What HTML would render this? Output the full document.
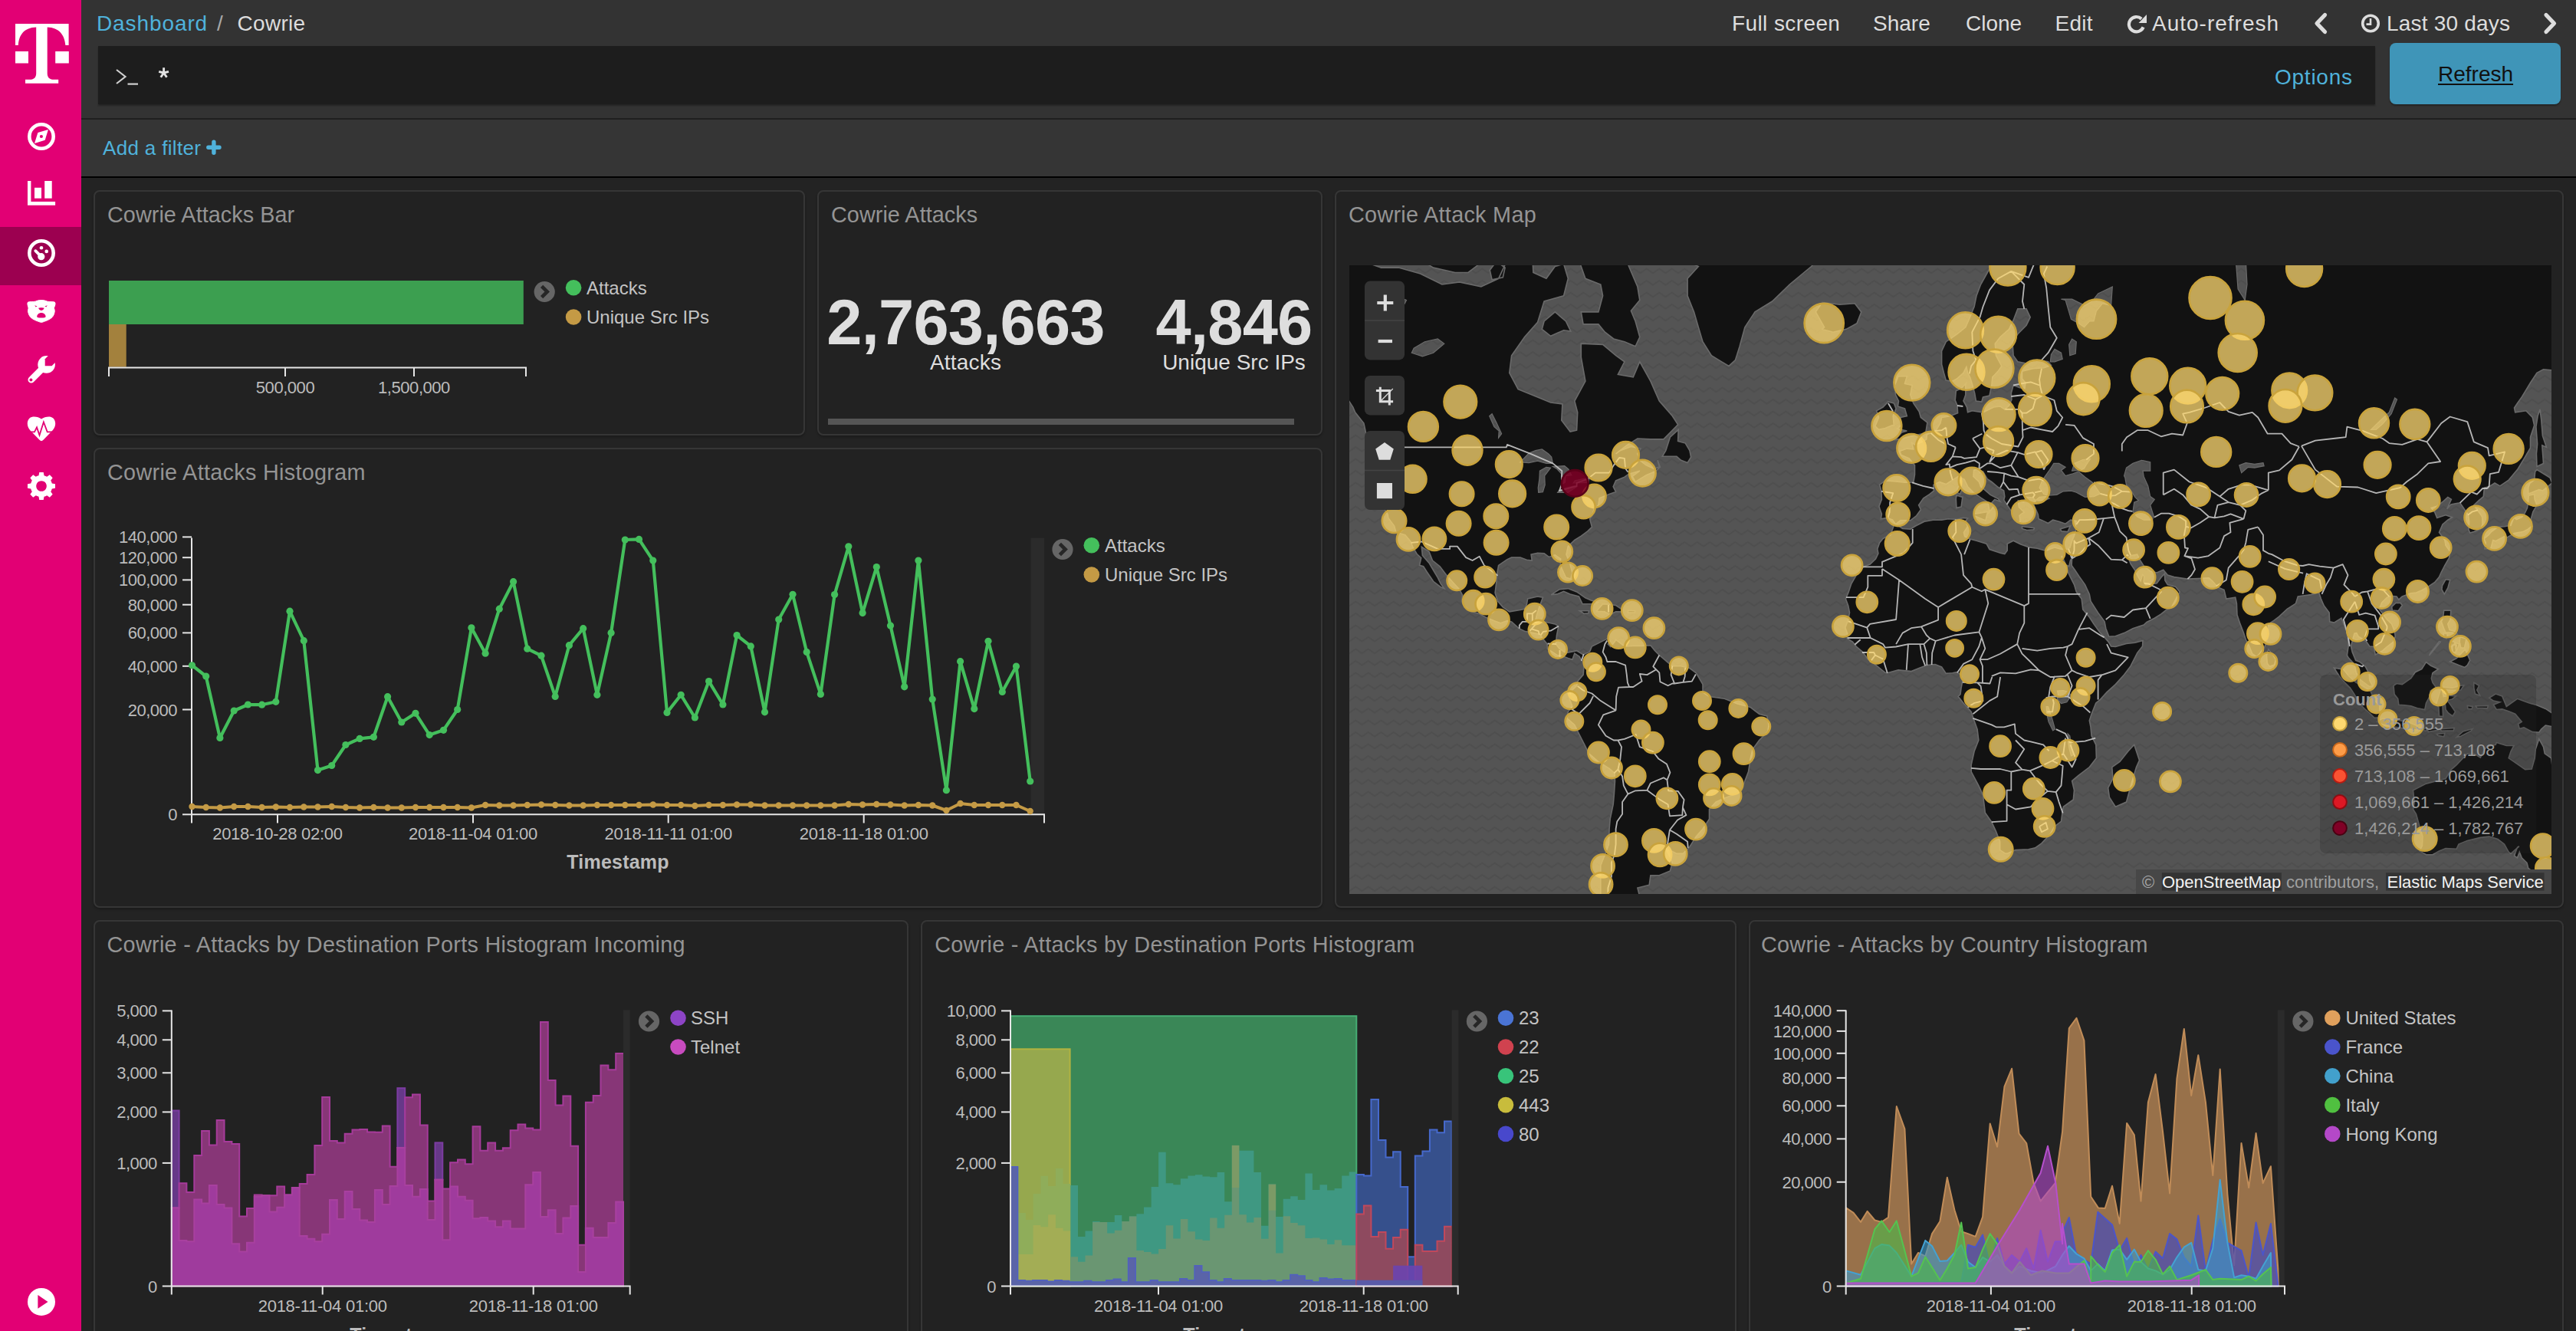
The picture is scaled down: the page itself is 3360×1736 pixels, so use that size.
<!DOCTYPE html>
<html><head><meta charset="utf-8"><style>
*{box-sizing:border-box;margin:0;padding:0}
html,body{width:3360px;height:1736px;overflow:hidden;background:#222;font-family:"Liberation Sans",sans-serif;}
.a{position:absolute}
.t28{font-size:28px;line-height:32px;white-space:nowrap}
.panel{position:absolute;background:#222;border:2px solid #363636;border-radius:8px;box-shadow:0 2px 3px rgba(0,0,0,.25)}
svg{position:absolute;left:0;top:0;overflow:visible}
</style></head>
<body>
<div class="a" style="left:106px;top:0;width:3254px;height:154px;background:#333"></div>
<div class="a" style="left:106px;top:154px;width:3254px;height:2px;background:#1f1f1f"></div>
<div class="a" style="left:106px;top:156px;width:3254px;height:74px;background:#353535"></div>
<div class="a" style="left:106px;top:230px;width:3254px;height:2px;background:#000"></div>
<div class="a" style="left:106px;top:232px;width:3254px;height:1504px;background:#232323"></div>
<div class="a" style="left:0;top:0;width:106px;height:1736px;background:#e20074"></div>
<div class="a" style="left:0;top:296px;width:106px;height:76px;background:#9c0050"></div>
<div class="panel" style="left:122.0px;top:248px;width:928.4px;height:320px"></div>
<div class="panel" style="left:1066.4px;top:248px;width:658.6px;height:320px"></div>
<div class="panel" style="left:1741.0px;top:248px;width:1603.0px;height:936px"></div>
<div class="panel" style="left:122.0px;top:584px;width:1603.0px;height:600px"></div>
<div class="panel" style="left:122.0px;top:1200px;width:1063.3px;height:600px"></div>
<div class="panel" style="left:1201.3px;top:1200px;width:1063.3px;height:600px"></div>
<div class="panel" style="left:2280.7px;top:1200px;width:1063.3px;height:600px"></div>
<div class="a" style="left:126px;top:16.50px;font-size:28px;line-height:1;white-space:nowrap;color:#4fb2db;letter-spacing:0.9px;font-weight:normal;">Dashboard</div>
<div class="a" style="left:283px;top:16.50px;font-size:28px;line-height:1;white-space:nowrap;color:#a8a8a8;letter-spacing:0px;font-weight:normal;">/</div>
<div class="a" style="left:309.5px;top:16.50px;font-size:28px;line-height:1;white-space:nowrap;color:#dcdcdc;letter-spacing:0.3px;font-weight:normal;">Cowrie</div>
<div class="a" style="left:2259px;top:16.50px;font-size:28px;line-height:1;white-space:nowrap;color:#ddd;letter-spacing:0.4px;font-weight:normal;">Full screen</div>
<div class="a" style="left:2443px;top:16.50px;font-size:28px;line-height:1;white-space:nowrap;color:#ddd;letter-spacing:0px;font-weight:normal;">Share</div>
<div class="a" style="left:2564px;top:16.50px;font-size:28px;line-height:1;white-space:nowrap;color:#ddd;letter-spacing:0px;font-weight:normal;">Clone</div>
<div class="a" style="left:2680.5px;top:16.50px;font-size:28px;line-height:1;white-space:nowrap;color:#ddd;letter-spacing:0.3px;font-weight:normal;">Edit</div>
<div class="a" style="left:2807px;top:16.50px;font-size:28px;line-height:1;white-space:nowrap;color:#ddd;letter-spacing:1.0px;font-weight:normal;">Auto-refresh</div>
<div class="a" style="left:3113px;top:16.50px;font-size:28px;line-height:1;white-space:nowrap;color:#ddd;letter-spacing:0.2px;font-weight:normal;">Last 30 days</div>
<div class="a" style="left:128px;top:60px;width:2970px;height:76px;background:#1d1d1d;box-shadow:0 2px 2px rgba(0,0,0,.3)"></div>
<div class="a" style="left:2967px;top:86.80px;font-size:28px;line-height:1;white-space:nowrap;color:#4fb2db;letter-spacing:0.75px;font-weight:normal;">Options</div>
<div class="a" style="left:3117px;top:56px;width:223px;height:80px;background:#3f95b8;border-radius:8px;box-shadow:0 2px 2px rgba(0,0,0,.3)"></div>
<div class="a" style="left:3180px;top:83.30px;font-size:28px;line-height:1;white-space:nowrap;color:#111;letter-spacing:0.0px;font-weight:normal;text-decoration:underline;text-underline-offset:3px">Refresh</div>
<div class="a" style="left:134px;top:179.89px;font-size:26px;line-height:1;white-space:nowrap;color:#4fb2db;letter-spacing:0.33px;font-weight:normal;">Add a filter</div>
<div class="a" style="left:140px;top:265.62px;font-size:28.8px;line-height:1;white-space:nowrap;color:#949494;letter-spacing:0.05px;font-weight:normal;">Cowrie Attacks Bar</div>
<div class="a" style="left:1084px;top:265.62px;font-size:28.8px;line-height:1;white-space:nowrap;color:#949494;letter-spacing:0.05px;font-weight:normal;">Cowrie Attacks</div>
<div class="a" style="left:1759px;top:265.62px;font-size:28.8px;line-height:1;white-space:nowrap;color:#949494;letter-spacing:0.29px;font-weight:normal;">Cowrie Attack Map</div>
<div class="a" style="left:140px;top:602.12px;font-size:28.8px;line-height:1;white-space:nowrap;color:#949494;letter-spacing:0.3px;font-weight:normal;">Cowrie Attacks Histogram</div>
<div class="a" style="left:139.5px;top:1218.12px;font-size:28.8px;line-height:1;white-space:nowrap;color:#949494;letter-spacing:0.295px;font-weight:normal;">Cowrie - Attacks by Destination Ports Histogram Incoming</div>
<div class="a" style="left:1219.2px;top:1218.12px;font-size:28.8px;line-height:1;white-space:nowrap;color:#949494;letter-spacing:0.285px;font-weight:normal;">Cowrie - Attacks by Destination Ports Histogram</div>
<div class="a" style="left:2297px;top:1218.12px;font-size:28.8px;line-height:1;white-space:nowrap;color:#949494;letter-spacing:0.276px;font-weight:normal;">Cowrie - Attacks by Country Histogram</div>
<svg width="3360" height="1736" viewBox="0 0 3360 1736" font-family="Liberation Sans, sans-serif">
<g fill="#fff">
<path d="M20,31 H89.6 V59 H85.4 C84.2,45 77,36 61.7,35.4 V95.5 C61.7,101 64.5,103.8 70,103.8 H76.2 V108.7 H33 V103.8 H39 C44.5,103.8 47.2,101 47.2,95.5 V35.4 C31.5,36 24.8,45 23.8,59 H20 Z"/>
<rect x="20" y="67" width="17" height="15.5"/><rect x="72.2" y="67" width="17.6" height="15.5"/>
</g>
<circle cx="54" cy="178" r="15.7" fill="none" stroke="#fff" stroke-width="4.6"/>
<path d="M62.9,169 L58.7,182.7 L45,187 L49.4,173 Z" fill="#fff"/><circle cx="53.9" cy="178" r="2.1" fill="#e20074"/>
<path d="M36,236 H40.4 V263 H72.1 V267.8 H36 Z" fill="#fff"/><rect x="45" y="244.8" width="9" height="13.9" fill="#fff"/><rect x="58.2" y="236" width="9.5" height="22.7" fill="#fff"/>
<circle cx="54" cy="330" r="15.7" fill="none" stroke="#fff" stroke-width="4.6"/>
<circle cx="53.8" cy="334.7" r="4.6" fill="#fff"/><path d="M46.3,327.2 L53.8,334.7" stroke="#fff" stroke-width="3.8" stroke-linecap="round"/>
<circle cx="54" cy="323.2" r="2.3" fill="#fff"/><circle cx="60.7" cy="327.9" r="2.3" fill="#fff"/>
<path fill="#fff" stroke="#fff" stroke-width="1" stroke-linejoin="round" d="M36.5,394.1 C40,393.2 43,393.8 46.1,393.2 C49,392 51,391.6 53.9,391.6 C56.8,391.6 58.8,392 61.8,393.2 C65,393.8 68,393.2 71.4,394.1 C72.3,395.5 72,397 71.7,398 C71.4,399.8 70.3,401 70.5,402.2 C71.3,404 71.3,405.5 71.1,407 C70.7,409.2 70,411 69,412.5 C67.8,414.2 66.5,415.2 65.1,416 C63,417.3 61,418.1 59,418.8 C57,419.6 55.5,420.3 53.9,420.3 C52.3,420.3 50.8,419.6 48.8,418.8 C46.8,418.1 44.8,417.3 42.8,416 C41.4,415.2 40.1,414.2 38.9,412.5 C37.9,411 37.1,409.2 36.7,407 C36.5,405.5 36.5,404 37.1,402.2 C37.3,401 36.4,399.8 36.2,398 C35.9,397 35.6,395.5 36.5,394.1 Z"/>
<g fill="#e20074"><path d="M45.2,398.2 L48.6,399.6 L46.7,400.5 Z"/><path d="M61.8,398.2 L58.4,399.6 L60.3,400.5 Z"/>
<path d="M50.3,401.8 C51.5,401 56.3,401 57.5,401.8 C57.6,403 56,404.7 53.9,404.9 C51.8,404.7 50.2,403 50.3,401.8 Z"/>
<path d="M48.2,413 C48.2,410.2 50.8,408 53.9,408 C57,408 59.6,410.2 59.6,413 C59.6,414.4 57.5,414.6 53.9,414.6 C50.3,414.6 48.2,414.4 48.2,413 Z"/></g>
<circle cx="60.6" cy="475.4" r="11.3" fill="#fff"/><path d="M56,480 L40.8,495.2" stroke="#fff" stroke-width="8.6" stroke-linecap="round"/>
<path d="M58.7,477.2 L58.7,468.2 L63.6,463.3 L76,463.3 L76,468.8 L67.6,477.2 Z" fill="#e20074"/>
<circle cx="40.4" cy="495.6" r="2" fill="#e20074"/>
<path fill="#fff" d="M54,546.6 C57,544 61,543.3 65,543.5 C70,544.2 72.2,548.5 72.2,552.5 C72.2,557.5 69,561 66.5,563.5 L56,574.3 C55,575.4 53,575.4 52,574.3 L41.5,563.5 C39,561 35.8,557.5 35.8,552.5 C35.8,548.5 38,544.2 43,543.6 C47,543.3 51,544 54,546.6 Z"/>
<path d="M37,563.3 L45,563.3 L48,557.4 L51.5,567.6 L56.9,550.4 L61.7,563.3 L71,563.3" fill="none" stroke="#e20074" stroke-width="1.8" stroke-linejoin="miter"/>
<path fill="#fff" fill-rule="evenodd" d="M48.60,620.87 L50.49,620.24 L51.28,616.00 L56.72,616.00 L57.51,620.24 L59.47,620.90 L61.24,621.79 L64.80,619.35 L68.65,623.20 L66.21,626.76 L67.13,628.60 L67.76,630.49 L72.00,631.28 L72.00,636.72 L67.76,637.51 L67.10,639.47 L66.21,641.24 L68.65,644.80 L64.80,648.65 L61.24,646.21 L59.40,647.13 L57.51,647.76 L56.72,652.00 L51.28,652.00 L50.49,647.76 L48.53,647.10 L46.76,646.21 L43.20,648.65 L39.35,644.80 L41.79,641.24 L40.87,639.40 L40.24,637.51 L36.00,636.72 L36.00,631.28 L40.24,630.49 L40.90,628.53 L41.79,626.76 L39.35,623.20 L43.20,619.35 L46.76,621.79 Z M54,627.2 A6.8,6.8 0 1 0 54.01,627.2 Z"/>
<circle cx="54" cy="1697.9" r="18" fill="#fff"/><path d="M49.4,1689.1 L62.5,1698 L49.4,1706.8 Z" fill="#e20074"/>
<path d="M2795.6,35.4 A9.7,9.7 0 1 1 2793.2,24.6" fill="none" stroke="#ddd" stroke-width="4.2"/>
<path d="M2800,19 L2800,30 L2789.5,30 Z" fill="#ddd"/>
<path d="M3032.5,19.5 L3022,30.5 L3032.5,41.5" fill="none" stroke="#ddd" stroke-width="5.2" stroke-linecap="round" stroke-linejoin="round"/>
<path d="M3321,19.5 L3331.5,30.5 L3321,41.5" fill="none" stroke="#ddd" stroke-width="5.2" stroke-linecap="round" stroke-linejoin="round"/>
<circle cx="3092" cy="30.5" r="10.3" fill="none" stroke="#ddd" stroke-width="3.6"/><path d="M3092,24 V31.6 H3086.5" fill="none" stroke="#ddd" stroke-width="2.6"/>
<path d="M152,91 L163.5,100 L152,109" fill="none" stroke="#d0d0d0" stroke-width="2.2"/><path d="M166.5,109.6 H180" stroke="#d0d0d0" stroke-width="2.2"/>
<path d="M213.6,95 V88.2 M213.6,95 L207.2,93.3 M213.6,95 L220,93.3 M213.6,95 L209.7,100.8 M213.6,95 L217.5,100.8" stroke="#e2e2e2" stroke-width="2.9" stroke-linecap="butt"/>
<path d="M278.9,185.2 V199.3 M271.8,192.3 H286" stroke="#4fb2db" stroke-width="5.4" stroke-linecap="round"/>
<rect x="142" y="366" width="540.8" height="57" fill="#44bf5c" fill-opacity="0.8"/>
<rect x="142" y="423" width="22.7" height="55.6" fill="#c49a45" fill-opacity="0.8"/>
<path d="M142,491 V479.6 H686 V491 M372,479.6 V491 M540,479.6 V491" fill="none" stroke="#e6e6e6" stroke-width="2"/>
<text x="372.0" y="513.4" font-size="22" fill="#bcbcbc" text-anchor="middle" letter-spacing="-0.45">500,000</text>
<text x="540.0" y="513.4" font-size="22" fill="#bcbcbc" text-anchor="middle" letter-spacing="-0.45">1,500,000</text>
<circle cx="710.2" cy="380.5" r="13.6" fill="#666"/>
<path d="M706.6,373.3 L713.8000000000001,380.5 L706.6,387.7" fill="none" stroke="#262626" stroke-width="4.6"/>
<circle cx="748.1" cy="375.3" r="10.3" fill="#44bf5c"/>
<text x="765.0" y="383.9" font-size="24" fill="#c4c4c4">Attacks</text>
<circle cx="748.1" cy="413.5" r="10.3" fill="#c49a45"/>
<text x="765.0" y="422.1" font-size="24" fill="#c4c4c4">Unique Src IPs</text>
<text x="1259.5" y="449.0" font-size="83" fill="#dedede" text-anchor="middle" font-weight="bold" letter-spacing="-0.75">2,763,663</text>
<text x="1609.5" y="449.0" font-size="83" fill="#dedede" text-anchor="middle" font-weight="bold" letter-spacing="-0.75">4,846</text>
<text x="1259.5" y="481.5" font-size="28" fill="#dedede" text-anchor="middle" letter-spacing="0.2">Attacks</text>
<text x="1609.5" y="481.5" font-size="28" fill="#dedede" text-anchor="middle" letter-spacing="0.0">Unique Src IPs</text>
<rect x="1080" y="546" width="608" height="8" fill="#555"/>
<rect x="1344.5" y="701.6" width="17.5" height="360.7" fill="#2b2b2b"/>
<path d="M238,1062.3 H250" stroke="#e6e6e6" stroke-width="2"/>
<text x="231.0" y="1070.3" font-size="22" fill="#bcbcbc" text-anchor="end" letter-spacing="-0.5">0</text>
<path d="M238,925.5 H250" stroke="#e6e6e6" stroke-width="2"/>
<text x="231.0" y="933.5" font-size="22" fill="#bcbcbc" text-anchor="end" letter-spacing="-0.5">20,000</text>
<path d="M238,868.8 H250" stroke="#e6e6e6" stroke-width="2"/>
<text x="231.0" y="876.8" font-size="22" fill="#bcbcbc" text-anchor="end" letter-spacing="-0.5">40,000</text>
<path d="M238,825.4 H250" stroke="#e6e6e6" stroke-width="2"/>
<text x="231.0" y="833.4" font-size="22" fill="#bcbcbc" text-anchor="end" letter-spacing="-0.5">60,000</text>
<path d="M238,788.7 H250" stroke="#e6e6e6" stroke-width="2"/>
<text x="231.0" y="796.7" font-size="22" fill="#bcbcbc" text-anchor="end" letter-spacing="-0.5">80,000</text>
<path d="M238,756.4 H250" stroke="#e6e6e6" stroke-width="2"/>
<text x="231.0" y="764.4" font-size="22" fill="#bcbcbc" text-anchor="end" letter-spacing="-0.5">100,000</text>
<path d="M238,727.2 H250" stroke="#e6e6e6" stroke-width="2"/>
<text x="231.0" y="735.2" font-size="22" fill="#bcbcbc" text-anchor="end" letter-spacing="-0.5">120,000</text>
<path d="M238,700.4 H250" stroke="#e6e6e6" stroke-width="2"/>
<text x="231.0" y="708.4" font-size="22" fill="#bcbcbc" text-anchor="end" letter-spacing="-0.5">140,000</text>
<path d="M250,701.6 V1062.3 H1362 V1073.5 M250,1062.3 V1073.5 M362,1062.3 V1073.5 M617,1062.3 V1073.5 M871.7,1062.3 V1073.5 M1126.7,1062.3 V1073.5" fill="none" stroke="#e6e6e6" stroke-width="2"/>
<text x="362.0" y="1094.8" font-size="22" fill="#bcbcbc" text-anchor="middle" letter-spacing="-0.25">2018-10-28 02:00</text>
<text x="617.0" y="1094.8" font-size="22" fill="#bcbcbc" text-anchor="middle" letter-spacing="-0.25">2018-11-04 01:00</text>
<text x="871.7" y="1094.8" font-size="22" fill="#bcbcbc" text-anchor="middle" letter-spacing="-0.25">2018-11-11 01:00</text>
<text x="1126.7" y="1094.8" font-size="22" fill="#bcbcbc" text-anchor="middle" letter-spacing="-0.25">2018-11-18 01:00</text>
<text x="806.0" y="1132.5" font-size="25" fill="#bcbcbc" text-anchor="middle" font-weight="bold" letter-spacing="0.2">Timestamp</text>
<polyline points="250.5,1052.0 268.7,1053.0 286.9,1053.5 305.2,1052.0 323.4,1052.0 341.6,1053.0 359.8,1052.5 378.0,1053.0 396.3,1052.5 414.5,1052.5 432.7,1052.0 450.9,1053.0 469.1,1053.5 487.4,1053.0 505.6,1053.5 523.8,1053.5 542.0,1053.0 560.2,1053.0 578.5,1053.0 596.7,1053.0 614.9,1053.5 633.1,1050.0 651.3,1050.5 669.6,1050.5 687.8,1050.0 706.0,1049.5 724.2,1050.0 742.4,1050.5 760.7,1050.5 778.9,1050.0 797.1,1050.0 815.3,1050.0 833.5,1050.0 851.8,1049.5 870.0,1050.0 888.2,1050.0 906.4,1051.0 924.6,1050.0 942.9,1050.0 961.1,1049.5 979.3,1049.5 997.5,1050.5 1015.7,1050.5 1034.0,1050.5 1052.2,1050.5 1070.4,1050.5 1088.6,1050.5 1106.8,1049.0 1125.1,1049.5 1143.3,1049.0 1161.5,1049.5 1179.7,1050.5 1197.9,1050.0 1216.2,1050.5 1234.4,1057.0 1252.6,1048.0 1270.8,1050.0 1289.0,1050.0 1307.3,1050.0 1325.5,1050.0 1343.7,1058.0" fill="none" stroke="#c49a45" stroke-width="4" stroke-linejoin="round"/>
<g fill="#c49a45"><circle cx="250.5" cy="1052.0" r="4.2"/><circle cx="268.7" cy="1053.0" r="4.2"/><circle cx="286.9" cy="1053.5" r="4.2"/><circle cx="305.2" cy="1052.0" r="4.2"/><circle cx="323.4" cy="1052.0" r="4.2"/><circle cx="341.6" cy="1053.0" r="4.2"/><circle cx="359.8" cy="1052.5" r="4.2"/><circle cx="378.0" cy="1053.0" r="4.2"/><circle cx="396.3" cy="1052.5" r="4.2"/><circle cx="414.5" cy="1052.5" r="4.2"/><circle cx="432.7" cy="1052.0" r="4.2"/><circle cx="450.9" cy="1053.0" r="4.2"/><circle cx="469.1" cy="1053.5" r="4.2"/><circle cx="487.4" cy="1053.0" r="4.2"/><circle cx="505.6" cy="1053.5" r="4.2"/><circle cx="523.8" cy="1053.5" r="4.2"/><circle cx="542.0" cy="1053.0" r="4.2"/><circle cx="560.2" cy="1053.0" r="4.2"/><circle cx="578.5" cy="1053.0" r="4.2"/><circle cx="596.7" cy="1053.0" r="4.2"/><circle cx="614.9" cy="1053.5" r="4.2"/><circle cx="633.1" cy="1050.0" r="4.2"/><circle cx="651.3" cy="1050.5" r="4.2"/><circle cx="669.6" cy="1050.5" r="4.2"/><circle cx="687.8" cy="1050.0" r="4.2"/><circle cx="706.0" cy="1049.5" r="4.2"/><circle cx="724.2" cy="1050.0" r="4.2"/><circle cx="742.4" cy="1050.5" r="4.2"/><circle cx="760.7" cy="1050.5" r="4.2"/><circle cx="778.9" cy="1050.0" r="4.2"/><circle cx="797.1" cy="1050.0" r="4.2"/><circle cx="815.3" cy="1050.0" r="4.2"/><circle cx="833.5" cy="1050.0" r="4.2"/><circle cx="851.8" cy="1049.5" r="4.2"/><circle cx="870.0" cy="1050.0" r="4.2"/><circle cx="888.2" cy="1050.0" r="4.2"/><circle cx="906.4" cy="1051.0" r="4.2"/><circle cx="924.6" cy="1050.0" r="4.2"/><circle cx="942.9" cy="1050.0" r="4.2"/><circle cx="961.1" cy="1049.5" r="4.2"/><circle cx="979.3" cy="1049.5" r="4.2"/><circle cx="997.5" cy="1050.5" r="4.2"/><circle cx="1015.7" cy="1050.5" r="4.2"/><circle cx="1034.0" cy="1050.5" r="4.2"/><circle cx="1052.2" cy="1050.5" r="4.2"/><circle cx="1070.4" cy="1050.5" r="4.2"/><circle cx="1088.6" cy="1050.5" r="4.2"/><circle cx="1106.8" cy="1049.0" r="4.2"/><circle cx="1125.1" cy="1049.5" r="4.2"/><circle cx="1143.3" cy="1049.0" r="4.2"/><circle cx="1161.5" cy="1049.5" r="4.2"/><circle cx="1179.7" cy="1050.5" r="4.2"/><circle cx="1197.9" cy="1050.0" r="4.2"/><circle cx="1216.2" cy="1050.5" r="4.2"/><circle cx="1234.4" cy="1057.0" r="4.2"/><circle cx="1252.6" cy="1048.0" r="4.2"/><circle cx="1270.8" cy="1050.0" r="4.2"/><circle cx="1289.0" cy="1050.0" r="4.2"/><circle cx="1307.3" cy="1050.0" r="4.2"/><circle cx="1325.5" cy="1050.0" r="4.2"/><circle cx="1343.7" cy="1058.0" r="4.2"/></g>
<polyline points="250.5,867.8 268.7,882.0 286.9,962.5 305.2,927.0 323.4,919.0 341.6,919.2 359.8,915.3 378.0,797.2 396.3,835.7 414.5,1004.6 432.7,998.5 450.9,971.5 469.1,963.4 487.4,961.3 505.6,908.7 523.8,942.0 542.0,930.3 560.2,958.6 578.5,952.3 596.7,925.5 614.9,818.8 633.1,852.2 651.3,794.2 669.6,758.7 687.8,846.2 706.0,855.2 724.2,908.4 742.4,841.7 760.7,819.7 778.9,906.3 797.1,825.4 815.3,704.0 833.5,703.4 851.8,731.1 870.0,929.4 888.2,906.3 906.4,936.0 924.6,888.6 942.9,918.9 961.1,828.5 979.3,842.9 997.5,928.8 1015.7,808.0 1034.0,775.3 1052.2,850.4 1070.4,905.4 1088.6,775.6 1106.8,712.8 1125.1,799.6 1143.3,739.5 1161.5,816.1 1179.7,895.8 1197.9,731.1 1216.2,912.0 1234.4,1030.7 1252.6,862.7 1270.8,924.6 1289.0,836.3 1307.3,902.4 1325.5,869.0 1343.7,1019.0" fill="none" stroke="#44bf5c" stroke-width="4.2" stroke-linejoin="round"/>
<g fill="#44bf5c"><circle cx="250.5" cy="867.8" r="4.6"/><circle cx="268.7" cy="882.0" r="4.6"/><circle cx="286.9" cy="962.5" r="4.6"/><circle cx="305.2" cy="927.0" r="4.6"/><circle cx="323.4" cy="919.0" r="4.6"/><circle cx="341.6" cy="919.2" r="4.6"/><circle cx="359.8" cy="915.3" r="4.6"/><circle cx="378.0" cy="797.2" r="4.6"/><circle cx="396.3" cy="835.7" r="4.6"/><circle cx="414.5" cy="1004.6" r="4.6"/><circle cx="432.7" cy="998.5" r="4.6"/><circle cx="450.9" cy="971.5" r="4.6"/><circle cx="469.1" cy="963.4" r="4.6"/><circle cx="487.4" cy="961.3" r="4.6"/><circle cx="505.6" cy="908.7" r="4.6"/><circle cx="523.8" cy="942.0" r="4.6"/><circle cx="542.0" cy="930.3" r="4.6"/><circle cx="560.2" cy="958.6" r="4.6"/><circle cx="578.5" cy="952.3" r="4.6"/><circle cx="596.7" cy="925.5" r="4.6"/><circle cx="614.9" cy="818.8" r="4.6"/><circle cx="633.1" cy="852.2" r="4.6"/><circle cx="651.3" cy="794.2" r="4.6"/><circle cx="669.6" cy="758.7" r="4.6"/><circle cx="687.8" cy="846.2" r="4.6"/><circle cx="706.0" cy="855.2" r="4.6"/><circle cx="724.2" cy="908.4" r="4.6"/><circle cx="742.4" cy="841.7" r="4.6"/><circle cx="760.7" cy="819.7" r="4.6"/><circle cx="778.9" cy="906.3" r="4.6"/><circle cx="797.1" cy="825.4" r="4.6"/><circle cx="815.3" cy="704.0" r="4.6"/><circle cx="833.5" cy="703.4" r="4.6"/><circle cx="851.8" cy="731.1" r="4.6"/><circle cx="870.0" cy="929.4" r="4.6"/><circle cx="888.2" cy="906.3" r="4.6"/><circle cx="906.4" cy="936.0" r="4.6"/><circle cx="924.6" cy="888.6" r="4.6"/><circle cx="942.9" cy="918.9" r="4.6"/><circle cx="961.1" cy="828.5" r="4.6"/><circle cx="979.3" cy="842.9" r="4.6"/><circle cx="997.5" cy="928.8" r="4.6"/><circle cx="1015.7" cy="808.0" r="4.6"/><circle cx="1034.0" cy="775.3" r="4.6"/><circle cx="1052.2" cy="850.4" r="4.6"/><circle cx="1070.4" cy="905.4" r="4.6"/><circle cx="1088.6" cy="775.6" r="4.6"/><circle cx="1106.8" cy="712.8" r="4.6"/><circle cx="1125.1" cy="799.6" r="4.6"/><circle cx="1143.3" cy="739.5" r="4.6"/><circle cx="1161.5" cy="816.1" r="4.6"/><circle cx="1179.7" cy="895.8" r="4.6"/><circle cx="1197.9" cy="731.1" r="4.6"/><circle cx="1216.2" cy="912.0" r="4.6"/><circle cx="1234.4" cy="1030.7" r="4.6"/><circle cx="1252.6" cy="862.7" r="4.6"/><circle cx="1270.8" cy="924.6" r="4.6"/><circle cx="1289.0" cy="836.3" r="4.6"/><circle cx="1307.3" cy="902.4" r="4.6"/><circle cx="1325.5" cy="869.0" r="4.6"/><circle cx="1343.7" cy="1019.0" r="4.6"/></g>
<circle cx="1386" cy="716.5" r="13.6" fill="#666"/>
<path d="M1382.4,709.3 L1389.6,716.5 L1382.4,723.7" fill="none" stroke="#262626" stroke-width="4.6"/>
<circle cx="1423.8" cy="711.3" r="10.3" fill="#44bf5c"/>
<text x="1441.0" y="719.9" font-size="24" fill="#c4c4c4">Attacks</text>
<circle cx="1423.8" cy="749.5" r="10.3" fill="#c49a45"/>
<text x="1441.0" y="758.1" font-size="24" fill="#c4c4c4">Unique Src IPs</text>
<rect x="813" y="1317.5" width="8.8" height="360.0" fill="#2b2b2b"/>
<path d="M223.8,1677.5 V1575.4 H233.6 V1543.2 H243.4 V1554.9 H253.3 V1507.1 H263.1 V1474.9 H272.9 V1493.4 H282.7 V1461.1 H292.5 V1489.0 H302.4 V1491.9 H312.2 V1586.5 H322.0 V1576.0 H331.8 V1558.4 H341.6 V1559.3 H351.5 V1559.3 H361.3 V1547.6 H371.1 V1558.4 H380.9 V1549.0 H390.7 V1544.0 H400.6 V1532.0 H410.4 V1493.9 H420.2 V1431.0 H430.0 V1488.1 H439.8 V1490.4 H449.7 V1478.7 H459.5 V1473.4 H469.3 V1472.9 H479.1 V1476.4 H488.9 V1476.7 H498.8 V1468.5 H508.6 V1521.8 H518.4 V1496.9 H528.2 V1431.3 H538.0 V1427.4 H547.9 V1467.6 H557.7 V1566.6 H567.5 V1538.8 H577.3 V1550.5 H587.1 V1516.2 H597.0 V1512.4 H606.8 V1518.3 H616.6 V1469.3 H626.4 V1500.7 H636.2 V1490.4 H646.1 V1500.7 H655.9 V1497.2 H665.7 V1474.3 H675.5 V1466.4 H685.3 V1471.4 H695.2 V1473.4 H705.0 V1333.1 H714.8 V1409.0 H724.6 V1441.5 H734.4 V1429.5 H744.3 V1494.8 H754.1 V1623.7 H763.9 V1437.7 H773.7 V1428.9 H783.5 V1389.4 H793.4 V1395.2 H803.2 V1374.1 H813.0 V1677.5 Z" fill="#873677"/>
<rect x="223.8" y="1448.5" width="9.8" height="126.9" fill="#663888" stroke="#7c3ca2" stroke-width="2"/>
<rect x="567.5" y="1490.4" width="9.8" height="48.3" fill="#663888" stroke="#7c3ca2" stroke-width="2"/>
<rect x="518.4" y="1419.2" width="9.8" height="77.6" fill="#663888" stroke="#7c3ca2" stroke-width="2"/>
<path d="M223.8,1575.4 V1575.4 H233.6 V1543.2 H243.4 V1554.9 H253.3 V1507.1 H263.1 V1474.9 H272.9 V1493.4 H282.7 V1461.1 H292.5 V1489.0 H302.4 V1491.9 H312.2 V1586.5 H322.0 V1576.0 H331.8 V1558.4 H341.6 V1559.3 H351.5 V1559.3 H361.3 V1547.6 H371.1 V1558.4 H380.9 V1549.0 H390.7 V1544.0 H400.6 V1532.0 H410.4 V1493.9 H420.2 V1431.0 H430.0 V1488.1 H439.8 V1490.4 H449.7 V1478.7 H459.5 V1473.4 H469.3 V1472.9 H479.1 V1476.4 H488.9 V1476.7 H498.8 V1468.5 H508.6 V1521.8 H518.4 V1496.9 H528.2 V1431.3 H538.0 V1427.4 H547.9 V1467.6 H557.7 V1566.6 H567.5 V1538.8 H577.3 V1550.5 H587.1 V1516.2 H597.0 V1512.4 H606.8 V1518.3 H616.6 V1469.3 H626.4 V1500.7 H636.2 V1490.4 H646.1 V1500.7 H655.9 V1497.2 H665.7 V1474.3 H675.5 V1466.4 H685.3 V1471.4 H695.2 V1473.4 H705.0 V1333.1 H714.8 V1409.0 H724.6 V1441.5 H734.4 V1429.5 H744.3 V1494.8 H754.1 V1623.7 H763.9 V1437.7 H773.7 V1428.9 H783.5 V1389.4 H793.4 V1395.2 H803.2 V1374.1 H813.0" fill="none" stroke="#a63b9a" stroke-width="2"/>
<path d="M223.8,1677.5 V1575.4 H233.6 V1617.9 H243.4 V1619.3 H253.3 V1564.6 H263.1 V1569.5 H272.9 V1546.1 H282.7 V1571.0 H292.5 V1575.4 H302.4 V1622.3 H312.2 V1632.5 H322.0 V1620.8 H331.8 V1560.7 H341.6 V1559.3 H351.5 V1580.4 H361.3 V1574.8 H371.1 V1558.4 H380.9 V1549.0 H390.7 V1612.0 H400.6 V1615.8 H410.4 V1619.3 H420.2 V1609.7 H430.0 V1565.1 H439.8 V1590.0 H449.7 V1554.0 H459.5 V1576.9 H469.3 V1591.5 H479.1 V1593.9 H488.9 V1552.0 H498.8 V1571.0 H508.6 V1547.0 H518.4 V1496.9 H528.2 V1546.1 H538.0 V1560.7 H547.9 V1551.1 H557.7 V1590.9 H567.5 V1538.8 H577.3 V1617.3 H587.1 V1547.6 H597.0 V1560.7 H606.8 V1565.7 H616.6 V1589.2 H626.4 V1588.0 H636.2 V1592.4 H646.1 V1600.3 H655.9 V1592.4 H665.7 V1602.6 H675.5 V1602.6 H685.3 V1545.2 H695.2 V1529.1 H705.0 V1587.1 H714.8 V1578.3 H724.6 V1609.1 H734.4 V1588.6 H744.3 V1573.0 H754.1 V1658.9 H763.9 V1601.8 H773.7 V1614.1 H783.5 V1614.1 H793.4 V1595.0 H803.2 V1567.5 H813.0 V1677.5 Z" fill="#9f3b9d" stroke="#a8409f" stroke-width="2"/>
<path d="M211.8,1677.5 H223.8" stroke="#e6e6e6" stroke-width="2"/>
<text x="204.8" y="1685.5" font-size="22" fill="#bcbcbc" text-anchor="end" letter-spacing="-0.5">0</text>
<path d="M211.8,1516.9 H223.8" stroke="#e6e6e6" stroke-width="2"/>
<text x="204.8" y="1524.9" font-size="22" fill="#bcbcbc" text-anchor="end" letter-spacing="-0.5">1,000</text>
<path d="M211.8,1450.4 H223.8" stroke="#e6e6e6" stroke-width="2"/>
<text x="204.8" y="1458.4" font-size="22" fill="#bcbcbc" text-anchor="end" letter-spacing="-0.5">2,000</text>
<path d="M211.8,1399.3 H223.8" stroke="#e6e6e6" stroke-width="2"/>
<text x="204.8" y="1407.3" font-size="22" fill="#bcbcbc" text-anchor="end" letter-spacing="-0.5">3,000</text>
<path d="M211.8,1356.3 H223.8" stroke="#e6e6e6" stroke-width="2"/>
<text x="204.8" y="1364.3" font-size="22" fill="#bcbcbc" text-anchor="end" letter-spacing="-0.5">4,000</text>
<path d="M211.8,1318.4 H223.8" stroke="#e6e6e6" stroke-width="2"/>
<text x="204.8" y="1326.4" font-size="22" fill="#bcbcbc" text-anchor="end" letter-spacing="-0.5">5,000</text>
<text x="420.7" y="1710.8" font-size="22" fill="#bcbcbc" text-anchor="middle" letter-spacing="-0.25">2018-11-04 01:00</text>
<text x="695.7" y="1710.8" font-size="22" fill="#bcbcbc" text-anchor="middle" letter-spacing="-0.25">2018-11-18 01:00</text>
<path d="M223.8,1317.5 V1677.5 H821.7 V1688.5 M223.8,1677.5 V1688.5 M420.7,1677.5 V1688.5 M695.7,1677.5 V1688.5" fill="none" stroke="#e6e6e6" stroke-width="2"/>
<text x="522.8" y="1749.7" font-size="25" fill="#bcbcbc" text-anchor="middle" font-weight="bold" letter-spacing="0.2">Timestamp</text>
<circle cx="846.5" cy="1332" r="13.6" fill="#666"/>
<path d="M842.9,1324.8 L850.1,1332 L842.9,1339.2" fill="none" stroke="#262626" stroke-width="4.6"/>
<circle cx="884.5" cy="1327.7" r="10.3" fill="#8d44c6"/>
<text x="901.0" y="1336.3" font-size="24" fill="#c4c4c4">SSH</text>
<circle cx="884.5" cy="1365.5" r="10.3" fill="#c84bbf"/>
<text x="901.0" y="1374.1" font-size="24" fill="#c4c4c4">Telnet</text>
<rect x="1318" y="1325.2" width="451.3" height="352.3" fill="#3a8757" stroke="#46ad74" stroke-width="2"/>
<rect x="1318" y="1368.3" width="77.6" height="309.2" fill="#96a84e" stroke="#b2b341" stroke-width="2"/>
<path d="M1328.1,1677.5 V1582.1 H1337.9 V1590.9 H1347.6 V1556.9 H1357.4 V1533.8 H1367.1 V1547.0 H1376.9 V1524.1 H1386.6 V1544.0 H1396.4 V1677.5 Z" fill="#8fad5a"/>
<path d="M1328.1,1677.5 V1636.0 H1337.9 V1636.0 H1347.6 V1598.0 H1357.4 V1600.3 H1367.1 V1584.2 H1376.9 V1601.8 H1386.6 V1605.6 H1396.4 V1677.5 Z" fill="#a3ad55"/>
<path d="M1396.4,1677.5 V1546.1 H1406.0 V1612.9 H1415.5 V1605.6 H1425.1 V1593.0 H1434.6 V1593.9 H1444.2 V1593.9 H1453.8 V1585.1 H1463.3 V1593.0 H1472.9 V1586.5 H1482.4 V1583.3 H1492.0 V1574.5 H1501.6 V1548.1 H1511.1 V1502.7 H1520.7 V1543.2 H1530.3 V1545.2 H1539.8 V1537.3 H1549.4 V1533.5 H1558.9 V1532.3 H1568.5 V1534.4 H1578.1 V1535.3 H1587.6 V1529.1 H1597.2 V1567.2 H1606.8 V1493.9 H1616.3 V1500.7 H1625.9 V1500.7 H1635.4 V1529.1 H1645.0 V1598.8 H1654.6 V1544.6 H1664.1 V1587.1 H1673.7 V1563.7 H1683.2 V1560.2 H1692.8 V1565.1 H1702.4 V1530.6 H1711.9 V1552.0 H1721.5 V1545.2 H1731.1 V1552.5 H1740.6 V1549.9 H1750.2 V1533.5 H1759.7 V1528.5 H1769.3 V1677.5 Z" fill="#3f9882"/>
<rect x="1606.8" y="1493.9" width="9.6" height="55.1" fill="#7c9a66"/>
<rect x="1654.6" y="1544.6" width="9.6" height="34.3" fill="#7c9a66"/>
<path d="M1396.4,1677.5 V1639.3 H1406.0 V1645.7 H1415.5 V1637.5 H1425.1 V1593.9 H1434.6 V1593.9 H1444.2 V1608.5 H1453.8 V1604.7 H1463.3 V1593.0 H1472.9 V1586.5 H1482.4 V1631.1 H1492.0 V1633.1 H1501.6 V1635.5 H1511.1 V1629.0 H1520.7 V1598.2 H1530.3 V1615.5 H1539.8 V1590.0 H1549.4 V1606.2 H1558.9 V1616.4 H1568.5 V1617.9 H1578.1 V1588.6 H1587.6 V1601.8 H1597.2 V1584.8 H1606.8 V1549.0 H1616.3 V1584.2 H1625.9 V1594.4 H1635.4 V1588.0 H1645.0 V1615.8 H1654.6 V1578.9 H1664.1 V1634.6 H1673.7 V1586.2 H1683.2 V1595.0 H1692.8 V1598.2 H1702.4 V1614.9 H1711.9 V1614.4 H1721.5 V1616.4 H1731.1 V1622.9 H1740.6 V1617.3 H1750.2 V1624.3 H1759.7 V1624.3 H1769.3 V1677.5 Z" fill="#6a9672"/>
<path d="M1318.0,1677.5 V1521.8 H1327.6 V1669.7 H1337.2 V1670.6 H1346.8 V1669.7 H1356.4 V1669.7 H1366.0 V1671.2 H1375.6 V1669.7 H1385.2 V1670.6 H1394.8 V1672.1 H1404.4 V1672.1 H1414.0 V1670.6 H1423.6 V1672.1 H1433.2 V1672.1 H1442.8 V1669.7 H1452.4 V1668.3 H1462.0 V1672.1 H1471.6 V1640.7 H1481.2 V1672.1 H1490.8 V1672.1 H1500.4 V1669.7 H1510.0 V1672.1 H1519.6 V1672.1 H1529.2 V1672.1 H1538.8 V1667.7 H1548.5 V1669.7 H1558.1 V1650.7 H1567.7 V1658.9 H1577.3 V1669.7 H1586.9 V1672.1 H1596.5 V1667.7 H1606.1 V1669.7 H1615.7 V1669.7 H1625.3 V1669.7 H1634.9 V1669.7 H1644.5 V1670.6 H1654.1 V1669.7 H1663.7 V1672.1 H1673.3 V1669.7 H1682.9 V1662.4 H1692.5 V1663.9 H1702.1 V1669.7 H1711.7 V1672.1 H1721.3 V1666.8 H1730.9 V1668.3 H1740.5 V1667.7 H1750.1 V1669.7 H1759.7 V1669.7 H1769.3 V1677.5 Z" fill="#5a64a8" stroke="#5060c0" stroke-width="1.5"/>
<path d="M1769.3,1677.5 V1532.0 H1778.9 V1533.5 H1788.4 V1433.9 H1798.0 V1486.9 H1807.5 V1509.5 H1817.1 V1502.2 H1826.7 V1548.1 H1836.2 V1639.3 H1845.8 V1507.4 H1855.4 V1501.6 H1864.9 V1473.4 H1874.5 V1477.2 H1884.0 V1462.6 H1893.6 V1677.5 Z" fill="#36508c" stroke="#4669cc" stroke-width="2"/>
<path d="M1769.3,1677.5 V1583.6 H1778.9 V1572.5 H1788.4 V1612.9 H1798.0 V1607.0 H1807.5 V1628.7 H1817.1 V1614.1 H1826.7 V1603.8 H1836.2 V1672.1 H1845.8 V1623.7 H1855.4 V1631.9 H1864.9 V1631.9 H1874.5 V1618.8 H1884.0 V1599.7 H1893.6 V1677.5 Z" fill="#8e4a5f" stroke="#c0485c" stroke-width="2"/>
<rect x="1817.1" y="1650.7" width="38.2" height="26.8" fill="#6a44b0" fill-opacity="0.9"/>
<rect x="1769.3" y="1669.7" width="86.1" height="7.8" fill="#5a5aa8"/>
<rect x="1893.6" y="1317.5" width="8.8" height="360.0" fill="#2b2b2b"/>
<path d="M1306,1677.5 H1318" stroke="#e6e6e6" stroke-width="2"/>
<text x="1299.0" y="1685.5" font-size="22" fill="#bcbcbc" text-anchor="end" letter-spacing="-0.5">0</text>
<path d="M1306,1516.9 H1318" stroke="#e6e6e6" stroke-width="2"/>
<text x="1299.0" y="1524.9" font-size="22" fill="#bcbcbc" text-anchor="end" letter-spacing="-0.5">2,000</text>
<path d="M1306,1450.4 H1318" stroke="#e6e6e6" stroke-width="2"/>
<text x="1299.0" y="1458.4" font-size="22" fill="#bcbcbc" text-anchor="end" letter-spacing="-0.5">4,000</text>
<path d="M1306,1399.3 H1318" stroke="#e6e6e6" stroke-width="2"/>
<text x="1299.0" y="1407.3" font-size="22" fill="#bcbcbc" text-anchor="end" letter-spacing="-0.5">6,000</text>
<path d="M1306,1356.3 H1318" stroke="#e6e6e6" stroke-width="2"/>
<text x="1299.0" y="1364.3" font-size="22" fill="#bcbcbc" text-anchor="end" letter-spacing="-0.5">8,000</text>
<path d="M1306,1318.4 H1318" stroke="#e6e6e6" stroke-width="2"/>
<text x="1299.0" y="1326.4" font-size="22" fill="#bcbcbc" text-anchor="end" letter-spacing="-0.5">10,000</text>
<text x="1511.0" y="1710.8" font-size="22" fill="#bcbcbc" text-anchor="middle" letter-spacing="-0.25">2018-11-04 01:00</text>
<text x="1778.7" y="1710.8" font-size="22" fill="#bcbcbc" text-anchor="middle" letter-spacing="-0.25">2018-11-18 01:00</text>
<path d="M1318,1317.5 V1677.5 H1901.7 V1688.5 M1318,1677.5 V1688.5 M1511,1677.5 V1688.5 M1778.7,1677.5 V1688.5" fill="none" stroke="#e6e6e6" stroke-width="2"/>
<text x="1609.8" y="1749.7" font-size="25" fill="#bcbcbc" text-anchor="middle" font-weight="bold" letter-spacing="0.2">Timestamp</text>
<circle cx="1926.4" cy="1332" r="13.6" fill="#666"/>
<path d="M1922.8000000000002,1324.8 L1930.0,1332 L1922.8000000000002,1339.2" fill="none" stroke="#262626" stroke-width="4.6"/>
<circle cx="1964" cy="1327.7" r="10.3" fill="#4a74d4"/>
<text x="1981.0" y="1336.3" font-size="24" fill="#c4c4c4">23</text>
<circle cx="1964" cy="1365.5" r="10.3" fill="#d0424f"/>
<text x="1981.0" y="1374.1" font-size="24" fill="#c4c4c4">22</text>
<circle cx="1964" cy="1403.3" r="10.3" fill="#38c47a"/>
<text x="1981.0" y="1411.9" font-size="24" fill="#c4c4c4">25</text>
<circle cx="1964" cy="1441.1000000000001" r="10.3" fill="#c8bc3c"/>
<text x="1981.0" y="1449.7" font-size="24" fill="#c4c4c4">443</text>
<circle cx="1964" cy="1478.9" r="10.3" fill="#4848cc"/>
<text x="1981.0" y="1487.5" font-size="24" fill="#c4c4c4">80</text>
<rect x="2970.7" y="1317.5" width="9" height="360.0" fill="#2b2b2b"/>
<path d="M2407.9,1677.5 L2407.9,1575.4 L2417.6,1581.8 L2427.0,1593.9 L2435.7,1579.8 L2445.4,1591.5 L2454.2,1593.9 L2463.0,1587.7 L2473.8,1443.0 L2484.4,1472.3 L2493.2,1648.6 L2502.0,1634.0 L2511.3,1638.4 L2520.1,1609.1 L2530.4,1593.0 L2539.8,1535.8 L2549.4,1578.3 L2558.2,1606.2 L2567.0,1609.1 L2576.7,1612.9 L2586.1,1587.1 L2595.7,1465.5 L2605.1,1495.7 L2614.5,1417.2 L2624.1,1393.8 L2633.5,1478.7 L2643.2,1491.0 L2652.6,1543.2 L2661.6,1566.6 L2671.0,1554.9 L2680.7,1543.2 L2690.1,1475.8 L2698.8,1341.0 L2708.5,1327.8 L2718.4,1357.1 L2727.2,1560.7 L2736.9,1575.4 L2745.7,1576.0 L2755.0,1546.7 L2764.7,1595.9 L2774.1,1464.9 L2783.8,1480.2 L2792.5,1566.6 L2801.9,1437.7 L2811.6,1401.1 L2821.0,1475.8 L2830.1,1556.4 L2839.4,1406.9 L2848.8,1341.9 L2858.2,1428.9 L2867.3,1376.2 L2876.9,1437.7 L2886.3,1532.9 L2895.7,1394.6 L2905.4,1557.8 L2914.1,1650.1 L2923.5,1491.0 L2933.2,1549.0 L2942.6,1478.1 L2951.6,1543.2 L2961.9,1521.2 L2971.3,1654.5 L2971.9,1677.1 L2971.9,1677.5 Z" fill="#98714a" fill-opacity="1.0" stroke="#c08c58" stroke-width="2" stroke-linejoin="round"/>
<path d="M2407.9,1677.5 L2407.9,1673.5 L2558.2,1672.1 L2567.0,1623.7 L2576.7,1626.7 L2586.1,1610.5 L2595.7,1651.6 L2605.1,1614.9 L2614.5,1648.6 L2624.1,1636.9 L2634.4,1645.7 L2643.2,1628.1 L2652.6,1654.5 L2661.6,1604.7 L2671.0,1645.7 L2680.7,1619.3 L2690.1,1619.3 L2690.0,1607.6 L2698.8,1588.0 L2707.6,1634.0 L2718.4,1642.8 L2727.2,1648.6 L2736.3,1580.7 L2755.0,1597.4 L2764.7,1631.1 L2774.1,1614.9 L2783.8,1651.6 L2792.5,1636.9 L2801.9,1656.0 L2811.6,1632.5 L2821.0,1641.3 L2830.1,1609.1 L2839.4,1616.4 L2848.8,1639.8 L2858.2,1651.6 L2867.3,1585.6 L2876.9,1657.4 L2886.3,1617.9 L2895.7,1590.0 L2905.4,1620.8 L2923.5,1631.1 L2933.2,1666.2 L2942.6,1594.4 L2951.6,1636.9 L2961.9,1595.9 L2971.3,1675.0 L2971.3,1677.5 Z" fill="#4a4eb8" fill-opacity="0.72" stroke="#4c55c8" stroke-width="2" stroke-linejoin="round"/>
<path d="M2407.9,1677.5 L2407.9,1657.4 L2427.0,1662.7 L2445.4,1628.1 L2454.2,1623.1 L2464.5,1624.6 L2473.8,1634.0 L2485.0,1651.6 L2493.2,1664.7 L2511.3,1617.9 L2520.1,1625.2 L2530.4,1645.1 L2539.8,1644.2 L2549.4,1634.0 L2558.2,1623.7 L2567.0,1645.7 L2576.7,1653.0 L2586.1,1639.8 L2595.7,1645.7 L2605.1,1636.9 L2614.5,1651.6 L2624.1,1660.4 L2634.4,1651.6 L2649.0,1657.4 L2663.7,1660.4 L2681.3,1651.6 L2690.0,1636.9 L2698.8,1625.2 L2708.5,1635.5 L2718.4,1641.3 L2727.2,1657.4 L2736.3,1648.6 L2745.7,1657.4 L2755.0,1630.5 L2764.7,1629.6 L2774.1,1642.8 L2783.8,1629.6 L2792.5,1645.7 L2801.9,1654.5 L2811.6,1657.4 L2821.0,1662.4 L2830.1,1656.0 L2839.4,1639.8 L2848.8,1626.7 L2858.2,1620.8 L2867.3,1656.0 L2876.9,1657.4 L2886.3,1628.1 L2895.7,1538.8 L2905.4,1620.8 L2914.1,1666.2 L2923.5,1663.3 L2933.2,1664.7 L2942.6,1667.7 L2951.6,1651.6 L2961.9,1634.0 L2962.5,1677.1 L2962.5,1677.5 Z" fill="#3c98c8" fill-opacity="0.62" stroke="#44a2d2" stroke-width="2" stroke-linejoin="round"/>
<path d="M2407.9,1677.5 L2407.9,1673.5 L2427.0,1667.7 L2445.4,1603.2 L2454.2,1592.4 L2464.5,1607.0 L2473.8,1592.4 L2483.5,1628.1 L2493.2,1664.7 L2502.0,1660.4 L2511.3,1639.3 L2520.1,1653.0 L2530.4,1669.7 L2539.8,1654.5 L2549.4,1636.3 L2558.2,1594.4 L2567.0,1654.5 L2576.7,1653.0 L2586.1,1629.6 L2595.7,1609.1 L2605.1,1622.3 L2614.5,1651.6 L2624.1,1660.4 L2634.4,1645.7 L2649.0,1663.3 L2663.7,1657.4 L2681.3,1660.4 L2698.8,1660.4 L2718.4,1644.2 L2727.2,1673.5 L2727.2,1638.4 L2736.9,1650.1 L2745.7,1658.9 L2755.0,1634.0 L2764.7,1623.7 L2774.1,1664.7 L2783.8,1645.7 L2792.5,1645.7 L2801.9,1631.1 L2811.6,1642.8 L2821.0,1661.8 L2830.1,1651.6 L2839.4,1669.1 L2858.2,1663.3 L2876.9,1656.0 L2886.3,1669.1 L2895.7,1667.7 L2923.5,1669.1 L2933.2,1664.7 L2942.6,1670.6 L2951.6,1661.8 L2961.9,1653.0 L2962.5,1677.1 L2962.5,1677.5 Z" fill="#4cb848" fill-opacity="0.62" stroke="#55c350" stroke-width="2" stroke-linejoin="round"/>
<path d="M2407.9,1677.5 L2407.9,1673.5 L2576.7,1673.5 L2605.1,1625.2 L2634.4,1578.3 L2661.6,1530.0 L2671.0,1494.8 L2681.3,1543.2 L2690.1,1622.3 L2690.0,1595.9 L2698.8,1648.6 L2718.4,1648.6 L2727.2,1673.5 L2745.7,1670.6 L2764.7,1671.5 L2801.9,1671.5 L2858.2,1669.7 L2868.1,1663.3 L2868.1,1677.1 L2868.1,1677.5 Z" fill="#b048c8" fill-opacity="0.62" stroke="#b650cc" stroke-width="2" stroke-linejoin="round"/>
<path d="M2395.7,1677.5 H2407.7" stroke="#e6e6e6" stroke-width="2"/>
<text x="2388.7" y="1685.5" font-size="22" fill="#bcbcbc" text-anchor="end" letter-spacing="-0.5">0</text>
<path d="M2395.7,1541.7 H2407.7" stroke="#e6e6e6" stroke-width="2"/>
<text x="2388.7" y="1549.7" font-size="22" fill="#bcbcbc" text-anchor="end" letter-spacing="-0.5">20,000</text>
<path d="M2395.7,1485.4 H2407.7" stroke="#e6e6e6" stroke-width="2"/>
<text x="2388.7" y="1493.4" font-size="22" fill="#bcbcbc" text-anchor="end" letter-spacing="-0.5">40,000</text>
<path d="M2395.7,1442.3 H2407.7" stroke="#e6e6e6" stroke-width="2"/>
<text x="2388.7" y="1450.3" font-size="22" fill="#bcbcbc" text-anchor="end" letter-spacing="-0.5">60,000</text>
<path d="M2395.7,1405.9 H2407.7" stroke="#e6e6e6" stroke-width="2"/>
<text x="2388.7" y="1413.9" font-size="22" fill="#bcbcbc" text-anchor="end" letter-spacing="-0.5">80,000</text>
<path d="M2395.7,1373.8 H2407.7" stroke="#e6e6e6" stroke-width="2"/>
<text x="2388.7" y="1381.8" font-size="22" fill="#bcbcbc" text-anchor="end" letter-spacing="-0.5">100,000</text>
<path d="M2395.7,1344.9 H2407.7" stroke="#e6e6e6" stroke-width="2"/>
<text x="2388.7" y="1352.9" font-size="22" fill="#bcbcbc" text-anchor="end" letter-spacing="-0.5">120,000</text>
<path d="M2395.7,1318.2 H2407.7" stroke="#e6e6e6" stroke-width="2"/>
<text x="2388.7" y="1326.2" font-size="22" fill="#bcbcbc" text-anchor="end" letter-spacing="-0.5">140,000</text>
<text x="2596.9" y="1710.8" font-size="22" fill="#bcbcbc" text-anchor="middle" letter-spacing="-0.25">2018-11-04 01:00</text>
<text x="2858.7" y="1710.8" font-size="22" fill="#bcbcbc" text-anchor="middle" letter-spacing="-0.25">2018-11-18 01:00</text>
<path d="M2407.7,1317.5 V1677.5 H2980 V1688.5 M2407.7,1677.5 V1688.5 M2596.9,1677.5 V1688.5 M2858.7,1677.5 V1688.5" fill="none" stroke="#e6e6e6" stroke-width="2"/>
<text x="2693.8" y="1749.7" font-size="25" fill="#bcbcbc" text-anchor="middle" font-weight="bold" letter-spacing="0.2">Timestamp</text>
<circle cx="3003.9" cy="1332" r="13.6" fill="#666"/>
<path d="M3000.3,1324.8 L3007.5,1332 L3000.3,1339.2" fill="none" stroke="#262626" stroke-width="4.6"/>
<circle cx="3042.3" cy="1327.7" r="10.3" fill="#e0a05c"/>
<text x="3059.4" y="1336.3" font-size="24" fill="#c4c4c4">United States</text>
<circle cx="3042.3" cy="1365.5" r="10.3" fill="#4a54cc"/>
<text x="3059.4" y="1374.1" font-size="24" fill="#c4c4c4">France</text>
<circle cx="3042.3" cy="1403.3" r="10.3" fill="#42a0cc"/>
<text x="3059.4" y="1411.9" font-size="24" fill="#c4c4c4">China</text>
<circle cx="3042.3" cy="1441.1000000000001" r="10.3" fill="#50c040"/>
<text x="3059.4" y="1449.7" font-size="24" fill="#c4c4c4">Italy</text>
<circle cx="3042.3" cy="1478.9" r="10.3" fill="#b448c8"/>
<text x="3059.4" y="1487.5" font-size="24" fill="#c4c4c4">Hong Kong</text>
<clipPath id="mclip"><rect x="1760" y="346" width="1568" height="820"/></clipPath>
<g clip-path="url(#mclip)">
<pattern id="wave" width="16.5" height="15.5" patternUnits="userSpaceOnUse" x="1760" y="346"><rect width="16.5" height="15.5" fill="#545454"/><path d="M-0.5,10.5 L8.25,4.5 L17,10.5" fill="none" stroke="#4e4e4e" stroke-width="2"/></pattern>
<rect x="1760" y="346" width="1568" height="820" fill="url(#wave)"/>
<path fill="#121212" stroke="#6a6a6a" stroke-width="1.6" d="M1705.3,244.4 L1705.3,345.9 L1733.6,355.5 L1750.6,347.5 L1773.3,339.3 L1801.6,349.1 L1824.3,349.1 L1852.6,357.1 L1880.9,371.0 L1903.6,367.9 L1931.9,374.0 L1954.6,363.3 L1965.9,339.3 L1971.6,244.4 L1994.3,244.4 L1999.9,355.5 L2016.9,363.3 L2028.3,347.5 L2039.6,344.2 L2045.3,363.3 L2039.6,385.8 L2014.1,393.0 L2005.6,420.3 L1988.6,439.5 L1971.6,463.7 L1968.8,486.4 L1980.1,507.7 L2005.6,518.0 L2022.6,525.0 L2037.9,527.0 L2036.8,548.2 L2048.1,563.0 L2056.6,561.2 L2057.7,537.8 L2053.8,523.0 L2067.9,497.2 L2062.3,466.0 L2062.3,448.2 L2090.6,449.4 L2107.6,463.7 L2118.9,471.8 L2110.4,488.5 L2130.3,491.8 L2138.8,471.8 L2152.9,497.2 L2164.3,523.0 L2181.3,542.6 L2188.6,553.8 L2181.3,561.2 L2169.9,572.9 L2152.9,572.9 L2135.9,572.0 L2121.8,580.8 L2107.6,591.9 L2113.3,587.7 L2127.4,582.5 L2139.9,585.1 L2135.9,591.9 L2138.8,600.3 L2147.3,606.9 L2158.6,611.8 L2164.3,608.5 L2162.0,600.3 L2165.4,609.3 L2158.6,615.0 L2147.3,619.8 L2133.1,628.5 L2129.1,621.4 L2138.8,614.2 L2124.6,618.2 L2118.9,622.2 L2107.6,626.9 L2104.2,634.7 L2107.6,641.6 L2099.1,644.6 L2086.1,649.9 L2084.9,658.8 L2079.3,663.9 L2076.4,673.3 L2073.6,676.8 L2076.4,687.4 L2070.8,692.9 L2062.3,699.1 L2053.8,704.5 L2045.3,712.6 L2043.0,723.1 L2047.5,734.2 L2050.9,747.0 L2048.7,755.1 L2042.4,753.3 L2039.6,747.0 L2035.1,737.4 L2035.6,729.0 L2028.3,723.8 L2020.3,726.4 L2014.1,721.8 L2005.6,721.2 L1997.1,723.1 L1998.2,731.0 L1991.4,730.3 L1982.9,727.1 L1971.6,727.1 L1965.9,729.7 L1954.6,737.4 L1952.9,747.0 L1951.8,759.5 L1950.1,773.1 L1953.5,784.1 L1960.3,791.9 L1968.8,797.9 L1982.9,795.5 L1988.6,794.3 L1991.4,788.3 L1992.6,781.0 L2005.6,778.0 L2012.4,779.2 L2008.4,790.1 L2004.5,802.0 L2002.2,812.1 L2016.9,811.5 L2028.3,813.9 L2032.8,816.8 L2030.5,828.5 L2029.4,840.1 L2033.9,845.8 L2042.4,851.6 L2050.9,849.9 L2056.6,848.7 L2065.1,853.9 L2073.6,849.9 L2076.4,843.0 L2084.9,838.9 L2096.3,833.1 L2100.2,836.0 L2097.4,840.1 L2100.8,843.5 L2106.5,836.6 L2107.6,834.3 L2118.9,843.0 L2130.3,842.4 L2141.6,842.4 L2152.9,841.8 L2158.6,848.7 L2164.3,854.5 L2175.6,864.2 L2181.3,868.7 L2192.6,868.7 L2203.9,871.6 L2212.4,877.8 L2221.0,892.6 L2221.0,902.8 L2229.5,908.5 L2249.3,911.3 L2266.3,918.1 L2283.3,922.6 L2294.6,931.2 L2304.8,934.0 L2307.1,945.4 L2306.0,954.0 L2294.6,965.5 L2286.1,977.1 L2283.3,988.8 L2280.5,1006.5 L2274.8,1021.5 L2269.1,1033.7 L2260.6,1036.8 L2249.3,1041.1 L2238.0,1046.1 L2229.5,1055.5 L2229.5,1068.2 L2221.0,1081.2 L2212.4,1091.1 L2203.9,1104.5 L2195.4,1113.4 L2186.9,1113.4 L2181.3,1110.6 L2173.3,1107.9 L2178.4,1118.2 L2181.3,1125.3 L2178.4,1135.9 L2164.3,1141.7 L2152.9,1141.7 L2151.2,1154.2 L2135.9,1158.0 L2138.8,1169.4 L2135.9,1213.7 L2079.3,1213.7 L2087.8,1165.5 L2087.8,1150.5 L2087.8,1128.8 L2093.4,1114.8 L2098.5,1101.1 L2099.1,1081.2 L2100.2,1068.2 L2104.2,1049.2 L2105.3,1036.8 L2106.5,1018.5 L2105.9,1008.3 L2099.1,1002.4 L2084.9,993.5 L2072.5,982.9 L2066.8,971.3 L2059.4,956.9 L2053.8,945.4 L2044.1,936.9 L2045.3,928.3 L2050.9,921.5 L2048.1,914.1 L2046.4,908.5 L2050.9,900.0 L2056.6,894.3 L2057.7,888.6 L2065.1,880.1 L2066.2,865.9 L2062.3,860.2 L2060.0,856.2 L2053.8,852.2 L2050.9,860.2 L2045.3,858.5 L2039.6,856.2 L2031.1,854.5 L2018.6,846.4 L2018.1,840.1 L2011.3,831.4 L2008.4,827.3 L1999.9,825.6 L1988.6,823.2 L1981.2,819.7 L1971.6,810.9 L1965.9,809.7 L1957.4,812.7 L1948.9,809.7 L1937.6,805.0 L1929.1,800.3 L1917.8,797.3 L1909.3,790.1 L1906.4,784.1 L1907.6,776.2 L1903.6,768.8 L1895.1,759.5 L1886.6,750.1 L1878.1,738.7 L1868.5,731.0 L1863.9,719.2 L1854.3,713.2 L1855.4,724.4 L1863.9,734.2 L1869.6,743.8 L1875.3,753.3 L1879.2,761.4 L1883.8,767.6 L1879.2,765.7 L1869.6,758.3 L1861.1,745.7 L1856.6,738.7 L1851.5,737.4 L1853.7,727.7 L1848.1,722.5 L1842.4,712.6 L1840.1,706.5 L1832.8,697.7 L1820.9,694.3 L1818.6,686.0 L1810.7,675.4 L1810.1,671.1 L1802.7,658.8 L1799.9,652.1 L1800.5,640.1 L1801.6,624.6 L1801.6,606.1 L1797.6,589.4 L1806.1,590.2 L1807.3,583.4 L1798.8,574.6 L1793.1,570.2 L1781.8,565.7 L1778.9,552.0 L1767.6,537.8 L1764.8,531.0 L1756.3,518.0 L1747.8,502.5 L1739.3,491.8 L1725.1,487.4 L1710.9,478.6 L1682.6,475.2 Z M1994.3,244.4 L2062.3,295.2 L2096.3,322.3 L2118.9,330.9 L2124.6,347.5 L2135.9,374.0 L2138.8,391.5 L2127.4,405.5 L2133.1,419.0 L2138.8,439.5 L2133.1,451.8 L2118.9,445.7 L2104.8,442.0 L2093.4,433.2 L2084.9,422.9 L2065.1,422.9 L2062.3,406.9 L2084.9,406.9 L2090.6,385.8 L2087.8,371.0 L2067.9,363.3 L2059.4,339.3 L2039.6,342.6 L2022.6,330.9 L2005.6,322.3 Z M2014.1,419.0 L2028.3,406.9 L2042.4,419.0 L2048.7,432.0 L2039.6,430.7 L2022.6,438.3 L2011.3,429.4 Z M1829.9,304.5 L1838.4,330.9 L1852.6,339.3 L1869.6,349.1 L1897.9,355.5 L1914.9,355.5 L1931.9,342.6 L1931.9,304.5 Z M1943.3,352.3 L1951.8,341.0 L1963.1,349.1 L1960.3,361.8 L1946.1,364.9 Z M2195.4,304.5 L2195.4,339.3 L2215.3,347.5 L2201.1,363.3 L2201.1,385.8 L2209.6,406.9 L2215.3,426.8 L2221.0,445.7 L2232.3,463.7 L2243.6,470.6 L2255.0,477.4 L2263.5,469.5 L2269.1,451.8 L2275.9,426.8 L2289.0,406.9 L2311.6,393.0 L2334.3,371.0 L2362.6,347.5 L2379.6,330.9 L2379.6,304.5 Z M2379.6,426.8 L2368.3,406.9 L2376.8,394.4 L2399.5,397.2 L2419.3,395.8 L2427.8,406.9 L2422.1,421.6 L2408.0,429.4 L2391.0,433.2 L2376.8,429.4 Z M2168.2,595.3 L2172.8,587.7 L2178.4,570.2 L2189.2,560.3 L2188.6,575.5 L2198.3,578.1 L2203.9,587.7 L2205.6,596.1 L2201.1,603.6 L2192.6,600.3 L2186.9,595.3 Z M2023.2,775.6 L2033.9,768.8 L2045.3,767.6 L2056.6,771.9 L2067.9,779.8 L2075.3,782.9 L2084.4,785.9 L2079.3,787.7 L2064.0,787.7 L2059.4,778.0 L2048.1,774.9 L2039.6,771.3 L2031.1,774.9 Z M2082.7,796.7 L2090.6,787.7 L2098.0,788.3 L2107.6,789.5 L2116.7,795.5 L2115.5,797.9 L2107.6,797.9 L2099.7,801.5 L2092.9,797.9 L2082.7,797.3 Z M2060.6,796.7 L2072.5,796.7 L2071.9,799.7 L2066.2,800.3 Z M2123.5,796.1 L2132.5,796.7 L2132.5,799.1 L2123.5,799.1 Z M2595.0,244.4 L2595.0,350.7 L2583.6,371.0 L2578.0,385.8 L2575.1,400.0 L2569.5,413.7 L2563.8,426.8 L2552.5,435.8 L2538.3,445.7 L2532.6,457.8 L2532.6,475.2 L2535.5,486.4 L2538.3,496.1 L2546.8,497.2 L2552.5,494.0 L2561.0,486.4 L2564.9,478.6 L2566.6,486.4 L2569.5,491.8 L2572.3,500.4 L2575.7,512.9 L2577.4,523.0 L2584.8,524.0 L2586.5,518.0 L2595.0,516.0 L2597.8,502.5 L2598.9,491.8 L2606.3,484.1 L2610.8,477.4 L2603.5,463.7 L2602.3,448.2 L2609.1,439.5 L2620.5,429.4 L2626.1,417.7 L2631.8,402.8 L2643.1,402.8 L2648.2,413.7 L2643.1,424.2 L2631.8,435.8 L2625.0,445.7 L2626.1,463.7 L2631.8,471.8 L2643.1,474.0 L2657.3,469.5 L2671.5,471.8 L2675.4,476.3 L2665.8,479.7 L2651.6,480.8 L2637.5,484.1 L2637.5,494.0 L2642.0,499.3 L2640.9,506.7 L2634.6,505.7 L2626.1,502.5 L2623.3,512.9 L2623.9,521.0 L2620.5,529.0 L2614.8,533.9 L2609.1,530.0 L2600.6,531.0 L2586.5,537.8 L2572.3,535.8 L2566.6,537.8 L2565.5,531.0 L2561.0,523.0 L2563.8,515.0 L2563.8,502.5 L2564.4,499.9 L2558.1,506.7 L2551.3,509.8 L2550.2,522.0 L2553.0,529.0 L2553.6,538.7 L2544.0,542.6 L2532.6,544.5 L2530.9,552.0 L2525.8,560.3 L2518.5,564.8 L2513.4,566.6 L2512.8,572.9 L2505.4,577.3 L2497.5,579.9 L2493.5,577.3 L2495.8,585.9 L2487.3,585.1 L2477.7,588.5 L2479.9,593.6 L2490.1,597.8 L2497.5,606.9 L2497.5,619.0 L2495.8,629.3 L2484.5,629.3 L2470.3,627.7 L2459.0,626.9 L2451.6,632.4 L2453.9,640.1 L2454.4,651.4 L2451.0,660.2 L2452.2,664.6 L2454.4,670.4 L2453.3,676.8 L2461.8,675.4 L2468.6,678.2 L2472.6,683.9 L2478.8,678.9 L2491.8,678.9 L2499.8,672.5 L2505.4,664.6 L2502.6,658.8 L2508.8,649.9 L2516.8,644.6 L2522.4,640.1 L2521.9,632.4 L2529.8,628.5 L2538.3,631.6 L2546.8,626.1 L2554.2,621.4 L2562.1,625.4 L2566.6,634.7 L2574.0,642.3 L2583.6,649.1 L2592.7,655.1 L2595.0,666.1 L2593.3,669.7 L2598.4,663.2 L2601.2,659.5 L2597.8,655.8 L2601.8,651.4 L2609.1,654.3 L2606.3,650.6 L2596.1,645.4 L2589.3,639.3 L2583.6,634.7 L2581.4,628.5 L2574.0,621.4 L2574.6,613.4 L2580.8,611.0 L2581.9,616.6 L2586.5,615.0 L2592.1,624.6 L2597.8,628.5 L2606.3,635.5 L2613.7,640.1 L2614.8,647.6 L2613.7,652.1 L2617.6,658.0 L2621.6,663.9 L2623.9,667.5 L2626.7,677.5 L2631.8,681.1 L2635.2,680.3 L2634.1,672.5 L2637.5,669.7 L2640.3,668.2 L2633.5,661.7 L2632.4,652.9 L2639.7,655.1 L2642.6,648.4 L2651.6,649.1 L2655.0,652.9 L2652.8,658.8 L2656.2,666.1 L2658.4,671.1 L2659.0,676.8 L2664.1,678.9 L2671.5,682.5 L2677.7,678.2 L2685.6,680.3 L2694.1,683.2 L2700.9,678.2 L2708.3,679.6 L2707.2,685.3 L2707.7,690.8 L2705.5,698.4 L2702.6,705.8 L2699.8,714.5 L2694.1,717.2 L2687.3,715.9 L2680.0,713.9 L2674.3,715.9 L2668.6,718.5 L2657.3,715.2 L2647.1,713.9 L2635.8,709.9 L2626.1,705.2 L2618.2,709.2 L2618.2,717.9 L2614.8,722.5 L2609.1,721.2 L2595.0,716.5 L2591.0,709.2 L2578.0,705.2 L2569.5,703.1 L2562.7,699.7 L2561.5,694.3 L2566.6,686.7 L2563.8,679.6 L2566.6,676.1 L2561.0,675.4 L2552.5,677.5 L2541.1,676.8 L2532.6,678.2 L2521.3,678.2 L2510.0,680.3 L2498.6,686.0 L2491.8,690.1 L2481.6,689.4 L2474.3,684.6 L2470.3,685.3 L2465.8,697.7 L2456.1,702.5 L2451.6,707.9 L2448.8,715.9 L2449.9,721.8 L2446.5,729.0 L2439.1,736.1 L2430.6,739.3 L2422.1,748.9 L2414.8,761.4 L2410.8,773.1 L2407.4,781.0 L2410.8,790.1 L2412.5,799.1 L2410.8,808.0 L2406.8,818.6 L2409.7,826.7 L2409.1,832.6 L2416.5,837.2 L2421.0,843.0 L2429.5,850.4 L2436.3,859.6 L2444.8,865.9 L2459.0,877.3 L2461.8,877.8 L2476.0,873.9 L2493.0,875.6 L2504.3,871.0 L2513.4,867.6 L2524.1,866.5 L2532.6,869.9 L2538.3,878.4 L2546.8,877.8 L2552.5,876.7 L2558.1,880.7 L2559.8,888.6 L2558.1,897.1 L2557.0,905.6 L2554.2,908.5 L2561.0,917.0 L2571.2,928.3 L2574.0,936.9 L2579.1,951.1 L2580.8,965.5 L2575.1,980.0 L2571.2,997.6 L2571.2,1006.5 L2580.8,1024.6 L2586.5,1036.8 L2589.3,1059.9 L2597.8,1072.1 L2603.5,1084.4 L2608.6,1097.7 L2608.6,1108.6 L2614.8,1112.7 L2617.6,1113.4 L2629.0,1108.6 L2646.0,1107.9 L2654.5,1105.9 L2663.0,1099.8 L2674.3,1087.7 L2680.0,1077.9 L2688.5,1071.4 L2690.7,1055.5 L2691.3,1052.3 L2704.3,1043.0 L2705.5,1030.7 L2702.6,1018.5 L2711.1,1011.3 L2725.3,1000.6 L2734.4,988.8 L2733.8,971.3 L2728.1,959.8 L2727.0,948.3 L2725.3,939.7 L2728.1,931.2 L2733.8,917.0 L2739.5,912.4 L2748.0,902.8 L2759.3,892.6 L2770.6,880.1 L2779.1,868.7 L2787.7,851.6 L2794.5,843.0 L2795.0,835.5 L2784.8,838.3 L2773.5,839.5 L2759.3,843.5 L2753.6,843.0 L2749.7,836.6 L2745.1,831.4 L2739.5,825.6 L2731.0,813.9 L2725.3,805.0 L2716.8,794.9 L2715.1,781.0 L2708.3,771.9 L2705.5,762.6 L2699.8,751.4 L2695.8,742.5 L2689.0,725.1 L2690.7,727.7 L2694.7,736.8 L2698.7,738.7 L2700.4,731.0 L2702.6,727.7 L2702.1,737.4 L2706.6,743.8 L2711.7,751.4 L2719.6,762.6 L2725.3,774.9 L2727.0,784.1 L2736.6,799.1 L2745.1,810.9 L2746.8,819.7 L2750.8,830.2 L2759.3,829.7 L2770.6,825.6 L2782.0,819.7 L2796.2,815.0 L2800.1,811.5 L2810.3,806.2 L2818.8,800.9 L2826.2,794.9 L2831.9,793.1 L2836.4,784.7 L2843.2,771.9 L2837.5,765.1 L2827.3,762.6 L2823.9,757.0 L2823.4,748.2 L2818.8,753.3 L2813.2,760.8 L2799.0,762.6 L2796.2,758.9 L2796.7,751.4 L2794.5,749.5 L2792.2,757.7 L2788.8,752.0 L2784.8,743.8 L2779.1,735.5 L2776.3,727.7 L2780.3,724.4 L2787.7,723.1 L2791.6,731.0 L2796.2,738.0 L2804.7,745.1 L2813.2,747.0 L2821.7,743.2 L2827.3,750.1 L2835.8,752.6 L2852.8,755.1 L2867.0,754.5 L2881.2,753.9 L2885.7,757.7 L2892.5,765.7 L2901.0,769.4 L2903.8,781.0 L2915.7,779.2 L2917.4,787.1 L2918.0,802.0 L2922.0,813.9 L2926.5,825.6 L2929.3,834.3 L2933.9,843.0 L2937.8,852.7 L2943.5,856.7 L2947.5,852.2 L2953.7,844.1 L2956.5,837.2 L2959.4,826.7 L2958.8,813.9 L2966.2,809.2 L2971.8,805.0 L2983.2,794.3 L2994.5,787.1 L2997.3,778.0 L3005.8,776.8 L3014.3,775.6 L3024.5,772.5 L3027.4,781.0 L3031.3,790.1 L3038.1,799.1 L3038.7,810.9 L3044.4,812.1 L3054.0,806.2 L3058.0,816.8 L3062.5,828.5 L3063.1,843.0 L3061.4,854.5 L3063.1,857.9 L3071.0,866.5 L3073.3,877.3 L3078.4,886.4 L3090.3,895.4 L3094.8,894.9 L3090.8,887.5 L3090.3,879.0 L3085.2,869.3 L3078.4,863.6 L3072.7,861.3 L3068.2,850.4 L3066.5,843.0 L3068.7,834.3 L3071.0,826.2 L3073.8,825.6 L3076.1,830.2 L3082.3,833.7 L3086.9,837.2 L3090.8,843.0 L3096.5,843.5 L3098.2,853.9 L3107.8,848.7 L3113.5,843.5 L3122.0,837.2 L3124.3,829.7 L3123.1,822.7 L3119.7,813.9 L3113.5,808.0 L3107.8,800.3 L3103.3,794.3 L3106.7,785.9 L3113.5,779.2 L3119.2,777.4 L3126.0,778.0 L3128.8,782.2 L3133.3,778.0 L3144.7,773.7 L3151.5,773.1 L3158.8,770.0 L3167.3,765.1 L3175.8,759.5 L3181.5,752.6 L3184.3,746.3 L3188.9,737.4 L3194.5,727.7 L3195.7,719.2 L3190.0,711.2 L3188.9,704.5 L3181.5,694.3 L3186.0,683.9 L3192.8,678.2 L3198.5,674.7 L3190.0,671.8 L3178.7,675.4 L3175.8,668.2 L3171.3,662.4 L3178.7,660.2 L3187.2,653.6 L3192.8,648.4 L3197.4,651.4 L3191.7,663.9 L3196.8,658.0 L3204.2,656.6 L3208.7,655.8 L3213.8,663.2 L3219.5,671.8 L3220.6,680.3 L3220.0,690.8 L3221.7,695.0 L3226.8,693.6 L3235.3,690.1 L3238.2,683.9 L3237.6,674.0 L3233.1,667.5 L3226.8,658.8 L3233.1,652.9 L3239.3,647.6 L3240.4,636.2 L3246.7,634.7 L3254.0,630.0 L3260.8,633.9 L3272.2,626.1 L3283.5,612.6 L3292.0,598.6 L3300.5,584.2 L3300.5,570.2 L3305.6,554.8 L3303.3,544.5 L3294.8,535.8 L3280.7,537.8 L3279.5,532.0 L3283.5,526.0 L3289.2,518.0 L3300.5,499.3 L3309.0,486.4 L3317.5,481.9 L3331.7,483.0 L3354.4,479.7 L3354.4,244.4 Z M2472.0,573.7 L2484.5,571.1 L2495.8,568.4 L2511.7,564.8 L2513.9,551.1 L2505.4,544.5 L2503.2,536.8 L2495.8,526.0 L2491.8,515.0 L2494.1,502.5 L2484.5,500.4 L2487.3,490.7 L2476.0,490.7 L2471.4,502.5 L2472.6,515.0 L2476.5,523.0 L2475.4,530.0 L2484.5,532.9 L2487.3,542.6 L2478.8,544.5 L2480.5,553.8 L2474.8,559.4 L2487.3,562.1 L2480.5,563.9 Z M2470.3,554.8 L2469.2,542.6 L2473.1,532.9 L2470.3,526.0 L2462.9,524.0 L2456.1,531.0 L2447.6,535.8 L2450.5,544.5 L2445.9,555.7 L2450.5,560.3 L2459.0,558.5 L2468.0,554.8 Z M2574.6,670.4 L2592.7,667.5 L2589.9,678.9 L2574.6,672.5 Z M2551.9,646.1 L2559.8,648.4 L2558.1,661.0 L2551.9,662.4 L2551.3,650.6 Z M2557.6,632.4 L2558.7,639.3 L2556.4,644.6 L2553.0,642.3 L2553.6,635.5 Z M2637.5,686.7 L2653.3,688.7 L2652.8,690.8 L2643.7,691.5 L2637.5,689.4 Z M2687.3,690.1 L2700.4,686.0 L2697.0,693.6 L2689.0,692.9 Z M2957.1,863.6 L2956.5,854.5 L2958.8,847.0 L2964.5,853.9 L2968.4,860.2 L2966.7,867.0 L2960.5,869.3 L2957.7,865.9 Z M2783.7,971.3 L2790.5,991.7 L2786.5,1000.6 L2780.3,1021.5 L2773.5,1046.1 L2759.3,1052.3 L2751.4,1039.9 L2749.7,1027.6 L2755.9,1015.5 L2754.8,1000.6 L2765.0,993.5 L2775.7,980.0 Z M3241.0,715.9 L3248.9,715.2 L3251.8,704.5 L3255.2,705.8 L3267.6,699.1 L3269.9,701.1 L3279.5,695.6 L3290.9,693.6 L3296.5,690.8 L3302.8,686.0 L3301.1,677.5 L3303.9,667.5 L3309.0,658.8 L3306.2,651.4 L3305.6,644.6 L3298.2,646.1 L3297.7,653.6 L3296.5,662.4 L3293.1,669.7 L3289.2,674.7 L3282.4,677.5 L3279.0,674.7 L3275.0,685.3 L3266.5,686.7 L3258.0,687.4 L3249.5,693.6 L3246.1,697.7 L3239.9,702.5 L3242.1,707.9 Z M3297.7,643.9 L3304.5,641.6 L3311.8,638.5 L3316.4,640.1 L3328.8,630.0 L3326.0,623.0 L3309.0,612.6 L3306.7,615.0 L3305.6,626.1 L3299.9,630.0 L3297.7,636.2 Z M3309.0,608.5 L3317.5,604.4 L3315.8,580.8 L3321.5,583.4 L3316.4,568.4 L3314.7,547.3 L3313.0,533.9 L3310.1,542.6 L3307.9,556.6 L3309.6,579.0 L3308.4,591.9 Z M3184.9,768.8 L3188.3,774.9 L3192.8,767.0 L3195.7,756.4 L3190.0,755.8 L3185.5,763.9 Z M3119.7,791.3 L3124.8,786.5 L3131.1,786.5 L3133.3,789.5 L3128.2,796.7 L3120.3,796.1 Z M3187.7,796.1 L3196.8,796.1 L3196.2,808.0 L3192.8,813.9 L3195.1,821.5 L3203.0,823.8 L3207.6,830.8 L3203.0,827.3 L3198.5,825.0 L3190.0,825.0 L3187.7,819.7 L3184.3,810.9 L3186.6,805.0 Z M3195.7,863.0 L3204.2,858.5 L3207.0,855.6 L3215.5,847.0 L3221.7,861.3 L3218.3,867.6 L3214.9,870.4 L3207.0,867.6 Z M3122.0,894.3 L3126.0,891.5 L3133.3,892.6 L3144.7,884.7 L3150.3,876.7 L3158.8,872.7 L3164.5,863.6 L3170.7,868.2 L3180.4,872.7 L3173.0,877.8 L3171.3,884.7 L3173.0,890.3 L3177.5,896.6 L3170.2,901.1 L3169.0,908.5 L3164.5,917.0 L3162.8,925.5 L3153.2,923.8 L3144.7,920.9 L3136.2,919.8 L3128.8,919.2 L3127.7,911.3 L3123.1,905.6 Z M3044.4,871.0 L3056.8,873.3 L3063.6,881.8 L3073.3,890.3 L3079.5,893.2 L3092.0,901.1 L3096.5,913.0 L3103.9,919.8 L3104.4,935.7 L3097.1,936.3 L3090.8,930.0 L3084.0,924.4 L3076.7,916.4 L3071.0,905.6 L3065.3,897.1 L3058.0,889.8 L3051.2,881.8 Z M3100.5,941.4 L3107.8,936.9 L3118.0,938.6 L3130.5,939.7 L3141.8,942.0 L3152.6,946.6 L3153.2,952.3 L3139.0,950.6 L3127.7,948.9 L3116.3,947.1 L3107.8,944.9 Z M3177.5,918.7 L3181.5,905.6 L3183.2,899.4 L3187.2,896.0 L3198.5,897.1 L3209.8,894.3 L3213.8,893.7 L3209.8,900.0 L3203.0,900.5 L3190.0,900.0 L3186.0,902.8 L3187.2,908.5 L3194.0,907.3 L3203.6,907.9 L3198.5,911.9 L3192.3,913.6 L3197.4,920.9 L3202.5,928.3 L3199.1,934.0 L3193.4,930.0 L3190.0,925.5 L3189.4,918.7 L3186.0,919.2 L3186.6,934.6 L3181.5,934.0 L3180.9,922.6 Z M3246.7,910.2 L3255.2,905.1 L3263.7,907.9 L3269.3,921.5 L3283.5,911.3 L3297.7,916.4 L3309.0,919.8 L3320.3,924.4 L3330.5,931.2 L3337.3,936.9 L3348.7,948.3 L3354.4,962.6 L3337.3,959.8 L3331.7,948.3 L3320.3,946.0 L3314.7,951.1 L3311.8,955.2 L3303.3,954.6 L3292.0,948.9 L3286.3,950.6 L3284.6,944.3 L3289.2,941.4 L3280.7,931.2 L3272.2,927.8 L3263.7,924.9 L3256.3,925.5 L3252.3,919.2 L3260.8,915.8 L3252.3,914.1 Z M3147.5,1030.7 L3150.3,1029.4 L3164.5,1022.1 L3178.7,1018.5 L3190.0,1015.5 L3197.4,1003.6 L3204.2,997.6 L3209.8,991.7 L3218.3,982.9 L3226.8,982.9 L3235.3,988.2 L3239.3,980.0 L3243.8,973.6 L3255.2,971.3 L3256.3,968.4 L3269.3,972.5 L3279.0,972.5 L3275.0,980.0 L3272.2,988.8 L3280.7,994.7 L3293.7,1003.6 L3302.2,1003.0 L3306.2,988.8 L3307.3,977.1 L3311.8,963.8 L3317.5,974.2 L3319.2,982.9 L3327.7,988.8 L3328.8,997.6 L3332.8,1009.5 L3343.0,1018.5 L3354.4,1033.7 L3371.4,1049.2 L3354.4,1128.8 L3337.3,1139.5 L3323.2,1137.4 L3314.7,1141.0 L3303.3,1136.7 L3297.7,1132.3 L3296.0,1125.3 L3289.2,1118.9 L3286.3,1111.3 L3283.5,1118.9 L3279.5,1116.2 L3283.5,1105.2 L3285.8,1103.8 L3275.0,1113.4 L3272.2,1111.3 L3266.5,1101.1 L3258.0,1094.4 L3246.7,1091.1 L3235.3,1092.4 L3218.3,1096.4 L3207.0,1101.1 L3204.2,1107.2 L3190.0,1106.5 L3181.5,1110.0 L3173.0,1114.8 L3164.5,1114.8 L3156.0,1110.0 L3159.4,1103.1 L3160.0,1091.1 L3156.0,1077.9 L3151.5,1061.8 L3147.5,1055.5 L3149.2,1046.1 Z M3324.3,1155.7 L3344.7,1157.2 L3343.0,1174.8 L3331.7,1177.9 L3326.0,1167.1 Z M3208.7,830.8 L3217.2,833.1 L3214.4,845.3 L3209.8,844.7 L3208.1,837.2 Z M3195.7,834.9 L3202.5,837.8 L3199.1,843.0 L3195.1,843.0 Z M3198.5,841.2 L3204.2,841.2 L3203.0,851.0 L3199.1,850.4 Z M3203.0,838.3 L3207.6,840.1 L3204.7,848.1 L3203.0,845.8 Z M3187.2,825.6 L3192.8,827.3 L3191.1,833.1 L3187.7,831.4 Z M3168.5,855.0 L3183.2,837.2 L3181.5,836.6 L3170.2,851.6 Z M3156.0,948.9 L3160.0,950.6 L3157.1,952.9 L3153.2,950.6 Z M3161.7,950.0 L3165.6,950.0 L3164.5,953.4 L3161.7,952.9 Z M3166.2,951.1 L3178.7,949.4 L3179.8,952.3 L3167.3,954.6 Z M3183.2,950.6 L3201.3,949.4 L3200.2,952.9 L3184.3,953.4 Z M3178.7,957.5 L3188.9,956.3 L3187.7,960.9 L3179.8,959.2 Z M3204.2,961.5 L3212.7,954.0 L3225.1,950.6 L3222.9,953.4 L3209.8,960.3 Z M3226.8,890.3 L3233.6,894.3 L3230.8,900.0 L3234.8,907.3 L3228.5,905.1 L3226.8,897.1 Z M3229.1,920.9 L3245.5,920.4 L3244.4,923.8 L3230.8,923.2 Z M3218.3,920.4 L3225.1,921.5 L3224.0,924.9 L3218.9,924.4 Z"/>
<path fill="url(#wave)" stroke="#6a6a6a" stroke-width="1.2" d="M2660.1,636.2 L2663.0,628.5 L2666.9,622.2 L2672.6,614.2 L2678.8,604.4 L2685.6,604.4 L2694.1,609.3 L2688.5,613.4 L2694.1,620.6 L2702.6,618.2 L2711.1,615.0 L2719.6,622.2 L2729.3,629.3 L2739.5,643.9 L2731.0,647.6 L2719.6,648.4 L2708.3,642.3 L2701.5,640.1 L2691.3,640.8 L2682.8,645.4 L2671.5,646.1 L2665.8,644.6 L2663.0,640.1 Z M2702.6,614.2 L2705.5,604.4 L2716.8,599.5 L2726.4,598.6 L2721.3,606.1 L2718.5,611.0 L2712.8,613.4 Z M2770.6,620.6 L2773.5,610.2 L2782.0,604.4 L2793.3,600.3 L2804.7,602.8 L2804.7,614.2 L2795.0,614.2 L2796.2,621.4 L2801.8,633.9 L2804.7,647.6 L2810.3,651.4 L2804.7,658.8 L2809.2,673.3 L2807.5,678.2 L2796.2,678.2 L2787.7,674.0 L2782.0,667.5 L2783.7,655.1 L2789.4,652.9 L2784.8,648.4 L2780.8,641.6 L2773.5,632.4 L2771.8,623.0 Z M2688.5,390.1 L2694.1,391.5 L2701.5,416.3 L2711.1,421.6 L2718.5,426.8 L2725.3,419.0 L2731.0,419.0 L2734.4,405.5 L2742.3,395.8 L2753.6,398.6 L2755.3,374.0 L2736.6,382.9 L2728.7,393.0 L2719.6,398.6 L2702.6,390.1 Z M2909.5,304.5 L2916.9,347.5 L2919.1,377.0 L2928.2,391.5 L2931.0,371.0 L2929.3,339.3 L2922.5,304.5 Z M2655.6,652.1 L2660.1,648.4 L2668.6,647.6 L2673.2,649.9 L2668.6,652.1 L2660.1,652.9 Z M1982.9,602.8 L1994.3,603.6 L2005.6,601.1 L2016.9,604.4 L2025.4,604.4 L2023.7,596.1 L2019.8,591.9 L2011.3,585.9 L2002.8,587.7 L1994.3,591.1 Z M2006.7,642.3 L2012.4,641.6 L2015.2,632.4 L2014.7,620.6 L2022.6,610.2 L2016.9,609.3 L2008.4,614.2 L2007.9,624.6 L2006.2,636.2 Z M2025.4,608.5 L2031.1,611.8 L2036.8,618.2 L2036.8,631.6 L2041.3,629.3 L2041.9,620.6 L2049.8,619.8 L2045.8,611.8 L2040.7,607.7 Z M2031.7,642.3 L2045.3,642.3 L2056.6,634.7 L2053.2,633.9 L2043.0,636.2 L2033.4,640.1 Z M2052.1,630.0 L2071.9,629.3 L2073.0,623.8 L2065.1,624.6 L2054.3,626.9 Z M1954.6,571.1 L1958.6,565.7 L1951.8,551.1 L1946.1,539.7 L1942.7,542.6 L1948.9,556.6 L1955.2,562.1 Z M1796.5,412.3 L1812.9,416.3 L1827.1,405.5 L1834.5,391.5 L1821.4,385.8 L1811.2,395.8 L1801.6,398.6 Z M1841.3,460.2 L1855.4,464.8 L1869.6,460.2 L1883.8,448.2 L1875.3,442.0 L1858.3,445.7 L1844.1,454.2 Z M2683.4,901.1 L2691.3,900.5 L2697.5,902.2 L2701.5,907.3 L2695.8,915.8 L2688.5,917.5 L2683.4,911.9 L2684.5,905.6 Z M2669.2,921.5 L2671.5,921.5 L2676.6,936.9 L2680.5,951.1 L2677.7,952.9 L2672.0,941.4 L2669.8,931.2 Z M2697.0,956.9 L2699.8,959.8 L2702.1,974.2 L2704.3,984.7 L2701.5,985.9 L2699.2,977.1 L2697.0,964.4 Z M3092.5,560.3 L3099.3,560.3 L3107.8,552.9 L3119.2,539.7 L3126.5,521.0 L3123.7,519.0 L3116.3,537.8 L3105.0,548.2 Z M2674.3,471.8 L2680.0,471.8 L2690.2,468.3 L2688.5,460.2 L2680.0,455.4 L2675.4,462.5 Z M2699.8,463.7 L2707.2,461.3 L2708.3,445.7 L2702.6,442.0 L2698.7,449.4 Z M2920.8,606.9 L2929.3,603.6 L2940.7,605.3 L2952.0,603.6 L2953.1,607.7 L2940.7,610.2 L2932.2,609.3 L2923.7,616.6 Z"/>
<path d="M1805.6,583.4 L1964.8,583.4 L1965.9,579.9 L1996.5,591.9 L2025.4,604.4 L2037.3,614.2 L2036.8,632.4 L2033.9,640.1 L2056.6,633.9 L2056.6,630.0 L2070.8,624.6 L2081.0,616.6 L2099.1,616.6 L2104.8,606.9 L2112.1,597.0 L2118.9,597.8 L2120.1,611.0 L2123.5,615.8 M1840.7,707.9 L1854.3,706.5 L1875.3,715.9 L1891.1,715.9 L1891.1,712.6 L1900.8,712.6 L1912.1,727.1 L1920.6,731.0 L1929.7,725.7 L1935.9,737.4 L1940.4,740.6 L1953.5,750.8 M1981.8,819.7 L1981.8,815.6 L1985.8,810.9 L1992.0,810.9 L1992.0,800.3 L1998.8,800.3 L2003.9,796.1 M1998.8,800.3 L1998.8,811.5 M2004.5,812.7 L1997.7,820.3 L1993.7,824.4 M1997.7,820.3 L2006.7,823.2 L2007.9,827.9 M2032.8,816.8 L2022.6,822.7 L2013.0,823.8 L2009.6,828.5 M2030.0,840.1 L2018.6,839.5 M2034.5,848.1 L2034.5,856.7 M2065.7,853.3 L2062.8,861.9 M2096.3,835.5 L2093.4,840.1 L2090.6,850.4 L2094.6,857.3 L2096.3,863.0 L2107.6,863.0 L2120.1,867.6 L2121.8,880.1 L2122.9,890.3 L2125.2,896.0 M2125.2,896.0 L2111.0,896.6 L2108.2,908.5 L2107.6,926.6 M2107.6,926.6 L2087.8,914.1 L2076.4,904.5 L2065.1,900.5 L2057.7,894.9 M2078.1,907.9 L2073.6,917.0 L2059.4,931.2 L2050.9,925.5 L2049.2,922.1 M2164.3,854.5 L2156.3,869.3 L2160.3,873.3 L2148.4,880.1 L2138.8,879.0 L2141.6,888.6 L2130.3,896.0 L2125.2,896.0 M2160.3,873.3 L2164.3,877.3 L2165.4,889.2 L2175.6,894.3 L2181.3,891.5 L2184.1,891.5 L2195.4,889.8 L2206.8,888.6 L2211.9,879.5 M2181.3,868.7 L2179.6,880.1 L2184.1,891.5 M2198.3,871.0 L2197.7,882.4 L2195.4,889.8 M2107.6,926.6 L2091.2,932.3 L2084.9,945.4 L2090.6,954.0 L2094.6,959.8 L2104.8,965.5 L2110.4,965.5 M2110.4,965.5 L2115.0,974.2 L2113.3,990.6 L2110.4,1003.6 L2105.3,1008.3 M2110.4,965.5 L2118.9,963.8 L2133.7,958.0 L2138.8,974.2 L2155.8,980.0 L2163.1,989.4 L2173.9,996.4 L2178.4,1007.7 L2174.5,1017.3 M2110.4,1003.6 L2116.1,1012.5 L2117.8,1024.6 L2123.5,1035.6 L2133.1,1031.3 L2148.4,1030.7 M2148.4,1030.7 L2152.9,1021.5 L2169.9,1014.3 L2174.5,1017.3 M2148.4,1030.7 L2164.3,1042.4 L2175.6,1049.2 L2177.9,1064.4 L2194.3,1063.1 L2194.9,1053.0 M2174.5,1017.3 L2176.2,1031.3 L2188.6,1031.9 L2196.6,1043.0 L2194.9,1053.0 M2194.9,1053.0 L2199.4,1063.1 L2188.1,1069.5 L2177.9,1082.5 M2177.9,1082.5 L2186.9,1087.7 L2201.1,1097.7 L2201.7,1105.9 M2177.9,1082.5 L2175.0,1101.1 L2173.3,1107.2 M2123.5,1035.6 L2116.1,1046.1 L2116.1,1061.8 L2109.3,1071.4 L2107.6,1081.2 L2107.6,1101.1 L2105.9,1114.8 L2101.9,1125.3 L2101.9,1143.2 L2097.4,1158.0 L2097.4,1181.0 M2098.0,788.9 L2098.0,798.5 M2494.7,690.1 L2494.7,707.9 L2483.3,721.2 L2455.0,732.9 L2455.0,739.3 L2429.5,739.3 M2455.0,741.9 L2455.0,750.8 L2436.3,750.8 L2436.3,765.7 L2430.6,779.2 L2408.0,779.2 M2455.0,741.9 L2477.1,756.4 L2511.1,781.0 L2528.1,791.9 L2572.3,765.7 M2477.1,756.4 L2473.1,808.0 L2439.1,813.9 L2435.2,818.6 M2410.8,810.3 L2435.2,818.6 L2439.7,832.0 L2456.1,840.1 L2459.0,844.7 L2473.1,843.5 M2409.7,832.0 L2439.7,832.0 M2419.3,840.7 L2426.7,834.3 M2428.9,851.0 L2444.2,851.0 L2445.9,854.5 L2456.1,859.6 L2461.8,877.8 M2439.1,863.6 L2445.9,854.5 M2486.7,873.9 L2488.4,848.7 L2489.0,840.1 M2473.1,843.5 L2489.0,840.1 L2504.3,840.1 L2509.4,840.1 L2517.3,832.6 L2524.7,836.0 M2511.1,868.2 L2507.1,857.3 L2504.3,840.1 M2513.4,867.6 L2512.8,851.6 L2509.4,840.1 M2519.6,867.0 L2520.2,851.6 L2524.7,836.0 L2549.6,828.5 L2581.4,824.4 M2473.1,840.1 L2481.6,825.6 L2493.0,819.2 L2506.0,817.4 L2512.8,828.5 L2517.3,832.6 M2506.0,817.4 L2528.1,808.6 L2528.1,791.9 M2550.8,677.5 L2551.3,694.3 L2546.8,701.1 L2558.1,723.1 L2561.0,750.1 L2571.2,761.4 L2572.3,765.7 M2569.5,703.8 L2562.1,723.1 M2572.3,765.7 L2584.8,771.3 L2589.3,768.8 L2640.3,790.1 L2646.0,787.1 L2646.0,774.9 L2646.0,713.9 M2646.0,774.9 L2713.4,774.9 M2640.3,790.1 L2640.3,812.7 L2634.1,825.6 L2631.2,840.1 M2589.3,768.8 L2593.3,787.1 L2581.4,824.4 M2553.0,877.3 L2561.0,865.9 L2572.3,860.2 L2581.4,843.0 L2584.8,831.4 L2581.4,824.4 M2584.8,831.4 L2589.3,845.8 L2582.5,860.2 L2585.9,868.7 L2585.9,890.3 M2583.6,860.2 L2592.1,860.2 L2609.1,852.7 L2631.2,840.1 M2597.8,881.8 L2609.1,877.3 L2629.0,878.4 L2648.8,873.3 L2659.6,874.4 M2631.2,840.1 L2637.5,852.7 L2648.2,863.0 L2659.6,874.4 M2637.5,845.8 L2657.3,848.7 L2674.3,845.8 L2691.3,844.7 L2697.0,843.0 M2697.0,843.0 L2694.1,854.5 L2702.6,874.4 M2659.6,874.4 L2674.3,883.0 L2694.1,881.8 L2702.6,874.4 M2711.1,820.9 L2702.6,840.1 L2697.0,843.0 M2711.1,820.9 L2722.5,799.1 M2711.1,820.9 L2725.3,819.2 L2739.5,828.5 L2744.6,831.4 M2748.0,840.1 L2753.6,851.6 L2775.7,857.3 L2759.3,874.4 L2742.3,880.1 M2702.6,874.4 L2708.3,877.3 L2725.3,883.0 L2741.7,880.1 L2736.6,886.9 L2736.6,912.4 M2696.4,879.0 L2702.6,894.3 L2697.0,908.5 M2697.0,908.5 L2716.8,920.9 L2726.4,929.5 M2677.1,908.5 L2697.0,908.5 M2680.0,881.8 L2674.3,896.0 L2672.0,910.2 M2668.6,910.2 L2677.1,908.5 L2678.8,917.0 L2677.1,928.3 L2670.3,928.3 M2681.7,951.1 L2694.1,956.9 L2699.8,968.4 L2719.6,966.7 L2733.2,962.6 M2573.4,931.2 L2595.0,914.1 L2605.2,908.5 L2609.1,883.0 M2566.6,922.6 L2575.1,917.0 L2586.5,914.1 L2583.6,894.9 L2579.1,890.3 M2559.8,889.8 L2568.3,890.3 L2579.1,890.3 L2595.5,891.5 L2598.4,883.0 M2573.4,936.9 L2597.8,945.4 L2603.5,948.3 L2614.2,948.3 L2627.8,944.3 L2629.0,956.9 L2640.3,965.5 L2648.8,967.3 L2665.2,971.3 L2672.6,979.4 M2629.0,965.5 L2640.3,977.1 L2629.0,994.7 L2637.5,1003.6 M2571.2,1001.8 L2583.6,1003.0 L2609.1,1003.0 L2623.3,1006.5 L2637.5,1003.6 L2647.7,1005.3 M2623.3,1006.5 L2623.3,1030.7 L2617.6,1030.7 L2617.6,1049.2 L2617.6,1070.8 L2597.8,1072.1 M2617.6,1049.2 L2629.0,1055.5 L2648.8,1052.3 L2657.3,1043.0 L2670.9,1031.9 L2681.7,1033.1 M2647.7,1005.3 L2660.1,1021.5 L2670.9,1031.9 M2647.7,1005.3 L2665.8,997.6 L2676.6,992.3 L2690.7,998.8 L2689.6,1012.5 L2688.5,1024.6 L2681.7,1033.1 L2685.6,1046.1 L2690.7,1060.5 M2676.6,992.3 L2691.3,982.9 L2694.1,962.6 M2691.3,982.9 L2702.6,1000.6 L2707.7,990.0 L2700.4,971.3 M2660.1,1077.9 L2668.6,1072.7 L2670.9,1081.2 L2663.0,1085.1 L2660.1,1077.9 M2698.1,715.9 L2702.1,727.7 M2705.5,704.5 L2705.5,717.9 L2702.6,727.7 M2702.6,728.4 L2714.0,721.2 L2719.6,714.5 L2726.4,709.9 L2724.2,701.8 L2708.3,708.5 L2706.0,706.5 M2708.3,683.9 L2712.3,678.2 L2719.6,678.2 L2731.0,677.5 L2744.0,676.1 L2758.2,674.7 M2744.0,676.1 L2737.8,694.3 L2724.2,701.8 M2724.2,701.8 L2736.6,711.2 L2753.6,729.7 L2767.8,730.3 L2774.6,734.2 M2767.8,730.3 L2774.6,723.8 L2776.3,725.1 M2758.2,674.7 L2762.1,684.6 L2765.0,692.9 L2773.5,701.1 L2776.3,717.9 L2779.1,724.4 M2758.2,674.7 L2754.8,658.8 L2758.2,657.3 M2746.8,808.0 L2753.6,802.6 L2770.6,805.0 L2782.0,795.5 L2799.0,793.1 L2804.7,806.8 M2799.0,793.1 L2818.8,771.9 L2817.1,768.8 L2802.4,761.4 L2796.7,760.8 M2851.1,686.7 L2848.9,697.7 L2850.0,714.5 L2854.0,715.2 L2849.4,725.1 L2858.5,728.4 L2863.0,742.5 L2858.5,750.1 L2853.4,755.1 M2809.8,674.7 L2818.8,669.7 L2829.0,669.7 L2841.5,673.3 L2851.1,679.6 L2851.1,686.7 M2849.4,725.1 L2867.0,727.7 L2880.6,725.1 L2895.3,714.5 L2901.0,699.1 L2909.5,694.3 L2908.4,681.8 L2926.5,676.8 M2851.1,686.7 L2857.4,688.7 L2869.8,681.8 L2881.2,674.0 L2888.5,675.4 L2901.0,673.3 L2909.5,670.4 L2926.5,676.8 M2890.8,764.5 L2903.8,756.4 L2906.7,740.6 L2920.3,725.1 L2926.5,717.2 L2929.3,707.9 L2932.2,690.8 L2945.2,687.4 M2945.2,687.4 L2952.0,697.7 L2952.0,717.9 L2958.8,721.8 L2963.3,723.1 L2980.3,732.2 L2996.8,737.4 L3003.6,738.0 M2958.8,732.2 L2980.3,741.9 L3004.1,747.6 M3003.6,774.9 L3005.8,760.8 L3008.7,748.2 L3025.7,756.4 L3028.5,770.7 M3028.5,774.9 L3034.2,762.6 L3039.8,753.3 L3043.8,740.6 L3055.7,736.1 L3062.5,750.1 L3057.4,762.6 L3068.2,773.7 L3071.6,778.0 M3003.6,738.0 L3011.5,736.1 L3025.7,738.7 L3043.8,740.6 M3071.6,778.0 L3080.6,772.5 L3088.0,771.3 L3102.2,767.6 L3109.0,770.0 L3116.3,778.0 M3071.6,784.7 L3062.5,799.1 L3056.8,808.0 L3062.5,828.5 L3064.8,843.0 M3071.6,784.7 L3077.2,802.0 L3085.7,799.7 L3097.6,802.6 L3102.2,816.8 L3102.2,820.3 L3088.0,820.3 L3084.6,831.4 L3087.4,836.0 M3088.0,771.3 L3093.7,787.1 L3105.0,802.0 L3113.5,816.8 L3113.5,819.7 L3106.1,837.2 L3096.5,843.5 M3072.1,865.9 L3081.2,869.3 L3082.9,867.6 M3001.9,581.6 L3020.0,612.6 L3048.3,634.7 L3075.5,635.5 L3099.3,643.1 L3130.5,636.2 L3139.0,628.5 L3153.2,618.2 L3167.3,604.4 L3183.2,602.0 L3165.6,576.4 M3001.9,581.6 L3020.0,574.6 L3059.7,570.2 L3061.4,556.6 L3082.3,562.1 L3107.8,572.0 L3116.3,578.1 L3133.3,579.9 L3153.2,572.9 L3165.6,576.4 M3165.6,576.4 L3184.3,552.0 L3195.7,543.5 L3218.3,550.1 L3226.8,576.4 L3245.0,584.2 L3246.7,594.4 L3267.1,589.4 L3259.1,615.8 L3247.8,618.2 L3246.7,633.9 L3244.4,637.0 M3208.7,655.8 L3223.4,641.6 L3230.8,644.6 L3238.2,637.0 L3244.4,637.0 M3218.9,671.8 L3224.6,667.5 L3231.9,665.3 M2767.8,588.5 L2767.8,579.0 L2774.0,570.2 L2787.7,561.2 L2801.8,561.2 L2818.8,569.3 L2833.0,565.7 L2847.2,567.5 L2852.8,552.0 L2847.2,539.7 L2855.7,537.8 L2875.5,532.0 L2895.3,525.0 L2906.7,536.8 L2920.8,541.6 L2937.8,537.8 L2945.2,544.5 L2957.7,565.7 L2976.4,565.7 L2987.7,578.1 L2999.0,582.5 M2999.0,582.5 L2989.4,599.5 L2973.0,613.4 L2958.8,616.6 L2958.8,639.3 M2958.8,639.3 L2935.0,632.4 L2923.7,632.4 L2906.7,637.8 L2895.3,647.6 L2878.3,636.2 L2855.7,628.5 L2835.8,612.6 L2821.7,616.6 L2821.7,645.4 M2821.7,645.4 L2835.8,637.8 L2847.2,645.4 L2858.5,658.8 L2869.8,663.9 L2881.2,674.0 M2926.5,676.8 L2929.3,666.1 L2922.0,658.8 L2937.8,652.1 L2949.2,643.9 L2958.8,639.3 M2895.3,647.6 L2906.7,655.1 L2922.0,658.8 M2888.5,675.4 L2892.5,658.8 L2906.7,655.1 M2731.0,629.3 L2742.3,630.8 L2756.5,634.7 L2767.8,640.8 L2779.1,641.6 M2739.5,643.9 L2750.8,646.9 L2751.4,654.3 L2758.2,657.3 L2767.8,663.2 L2776.3,666.1 L2781.4,666.8 M2750.8,646.9 L2759.3,646.1 L2767.8,640.8 M2694.1,553.8 L2705.5,554.8 L2716.8,571.1 L2731.0,579.0 L2731.0,591.9 L2721.3,599.5 M2684.5,555.7 L2690.2,544.5 L2682.8,535.8 L2679.4,522.0 L2664.1,516.0 L2661.3,504.6 L2660.1,495.1 L2663.0,480.8 M2663.0,469.5 L2671.5,460.2 L2682.8,440.8 L2674.3,426.8 L2671.5,400.0 L2669.2,375.5 L2665.8,357.1 L2670.3,347.5 M2640.3,402.8 L2638.0,393.0 L2640.3,371.0 L2623.3,353.9 L2646.0,361.8 L2654.5,341.0 L2668.6,344.2 M2623.3,353.9 L2606.3,363.3 L2595.0,378.4 L2586.5,400.0 L2582.5,413.7 L2572.3,433.2 L2573.4,457.8 L2577.4,469.5 L2571.2,477.4 L2568.9,487.4 M2584.8,538.7 L2587.0,551.1 L2587.6,561.2 L2589.3,565.7 L2597.8,572.0 L2610.8,579.0 L2632.4,582.5 L2638.6,570.2 L2638.0,561.2 L2637.5,538.7 L2633.5,533.9 L2615.4,533.9 M2550.8,583.4 L2546.8,595.3 L2558.1,596.1 L2562.1,597.8 L2578.0,596.1 L2582.5,585.1 M2572.9,572.0 L2582.5,585.1 M2572.9,572.0 L2585.3,565.7 M2538.3,557.5 L2539.4,570.2 L2541.1,579.0 L2550.8,583.4 M2553.0,529.0 L2560.4,530.0 M2494.1,629.3 L2508.3,633.9 L2522.4,637.0 M2546.8,626.1 L2544.0,616.6 L2542.8,605.3 L2538.3,606.1 L2546.8,595.3 M2518.5,564.8 L2528.1,573.7 L2537.2,579.0 M2523.6,562.1 L2532.6,561.2 L2538.3,557.5 M2453.9,640.8 L2469.2,643.1 L2465.2,655.1 L2464.6,668.2 L2462.4,675.4 M2542.8,610.2 L2552.5,606.1 L2563.8,603.6 L2575.1,600.3 L2581.9,604.4 L2581.4,611.8 M2582.5,585.1 L2589.3,583.4 L2600.6,587.7 L2597.8,596.1 L2595.0,602.8 M2595.0,602.8 L2603.5,593.6 L2617.6,587.7 L2631.8,590.2 L2623.3,606.9 L2609.1,610.2 L2597.8,604.4 M2631.8,590.2 L2640.3,592.8 L2654.5,589.4 L2664.1,604.4 L2665.8,612.6 M2623.3,606.9 L2632.9,622.2 L2646.0,626.9 L2660.1,624.6 L2666.4,626.9 M2581.4,611.8 L2592.1,604.4 L2597.8,604.4 M2592.1,615.0 L2603.5,615.8 L2614.2,617.4 L2613.1,628.5 L2609.1,636.2 M2614.2,617.4 L2623.3,620.6 L2632.9,622.2 M2613.1,628.5 L2620.5,638.5 L2631.8,637.8 L2634.1,645.4 M2617.6,658.0 L2623.3,649.1 L2634.6,645.4 L2651.6,642.3 L2653.9,645.4 L2651.6,649.1 M2653.9,642.3 L2663.0,640.4 M2655.0,590.2 L2663.0,587.7 L2671.5,600.3 L2665.8,612.6 M2638.0,561.2 L2648.8,557.5 L2663.0,560.3 L2677.1,563.0 L2684.5,555.7 M2637.5,538.7 L2643.1,538.7 L2651.6,532.9 L2655.0,521.0 L2664.1,516.0 M2623.3,517.0 L2640.3,515.0 L2655.0,521.0 M2626.1,502.5 L2642.0,499.3 L2648.8,498.3 L2660.1,502.5 M2462.9,526.0 L2469.2,536.8" fill="none" stroke="#c8c8c8" stroke-width="1.8" stroke-linejoin="round" stroke-opacity="0.9"/>
<rect x="3026" y="880" width="282" height="233" rx="8" fill="#222" fill-opacity="0.25"/>
<g fill="#fdd870" fill-opacity="0.75" stroke="#c9a33c" stroke-width="2.6">
<circle cx="2379.2" cy="421.5" r="25.6"/>
<circle cx="1904.8" cy="524.1" r="21.3"/>
<circle cx="1856.4" cy="556.4" r="19.4"/>
<circle cx="1914.0" cy="587.2" r="19.4"/>
<circle cx="1968.3" cy="605.7" r="17.3"/>
<circle cx="1842.6" cy="624.8" r="17.9"/>
<circle cx="1906.6" cy="644.2" r="15.7"/>
<circle cx="1972.6" cy="643.9" r="17.3"/>
<circle cx="1818.5" cy="679.3" r="15.7"/>
<circle cx="1837.0" cy="703.4" r="15.1"/>
<circle cx="1870.9" cy="702.8" r="15.1"/>
<circle cx="1902.6" cy="682.7" r="15.7"/>
<circle cx="1951.3" cy="673.2" r="15.7"/>
<circle cx="1951.6" cy="707.7" r="15.7"/>
<circle cx="2030.2" cy="687.4" r="15.7"/>
<circle cx="2037.3" cy="719.4" r="13.6"/>
<circle cx="2045.0" cy="746.5" r="12.7"/>
<circle cx="2064.1" cy="751.1" r="12.7"/>
<circle cx="1937.1" cy="752.7" r="13.6"/>
<circle cx="1900.2" cy="757.3" r="12.7"/>
<circle cx="2085.0" cy="610.0" r="17.3"/>
<circle cx="2120.5" cy="593.4" r="17.3"/>
<circle cx="2142.3" cy="617.1" r="17.3"/>
<circle cx="2079.5" cy="647.0" r="15.1"/>
<circle cx="2065.6" cy="661.2" r="15.1"/>
<circle cx="2493.8" cy="499.1" r="23.4"/>
<circle cx="2460.9" cy="555.5" r="19.4"/>
<circle cx="2493.2" cy="584.8" r="18.8"/>
<circle cx="2518.5" cy="582.3" r="19.4"/>
<circle cx="2535.4" cy="554.9" r="15.7"/>
<circle cx="2473.8" cy="636.5" r="17.3"/>
<circle cx="2475.7" cy="671.0" r="15.1"/>
<circle cx="2474.7" cy="708.9" r="15.7"/>
<circle cx="2415.6" cy="737.3" r="13.6"/>
<circle cx="2541.0" cy="628.8" r="17.3"/>
<circle cx="2618.9" cy="349.1" r="23.4"/>
<circle cx="2683.6" cy="349.1" r="21.9"/>
<circle cx="3005.6" cy="350.6" r="23.4"/>
<circle cx="2883.0" cy="388.5" r="27.5"/>
<circle cx="2927.9" cy="417.8" r="25.0"/>
<circle cx="2918.7" cy="460.0" r="25.0"/>
<circle cx="2734.5" cy="416.2" r="25.6"/>
<circle cx="2563.5" cy="430.7" r="23.4"/>
<circle cx="2606.6" cy="436.3" r="23.4"/>
<circle cx="2565.0" cy="485.3" r="23.4"/>
<circle cx="2601.4" cy="480.6" r="25.0"/>
<circle cx="2656.8" cy="493.0" r="23.4"/>
<circle cx="2728.3" cy="500.7" r="23.4"/>
<circle cx="2717.5" cy="520.1" r="21.0"/>
<circle cx="2803.8" cy="490.8" r="23.4"/>
<circle cx="2853.7" cy="503.1" r="23.4"/>
<circle cx="2898.7" cy="513.3" r="21.3"/>
<circle cx="2986.2" cy="509.3" r="22.8"/>
<circle cx="3019.4" cy="512.4" r="22.8"/>
<circle cx="2980.9" cy="529.3" r="21.3"/>
<circle cx="2799.2" cy="535.5" r="21.3"/>
<circle cx="2852.5" cy="529.9" r="21.3"/>
<circle cx="2654.4" cy="533.9" r="21.3"/>
<circle cx="2607.2" cy="540.7" r="21.3"/>
<circle cx="2606.6" cy="575.5" r="19.4"/>
<circle cx="2659.0" cy="592.5" r="17.3"/>
<circle cx="2720.0" cy="597.7" r="17.3"/>
<circle cx="2890.7" cy="589.4" r="19.4"/>
<circle cx="3096.5" cy="551.8" r="19.4"/>
<circle cx="3149.8" cy="553.3" r="19.4"/>
<circle cx="3272.1" cy="585.4" r="19.4"/>
<circle cx="3224.3" cy="607.3" r="17.3"/>
<circle cx="3218.2" cy="624.8" r="17.3"/>
<circle cx="3101.1" cy="606.3" r="17.3"/>
<circle cx="3002.5" cy="623.9" r="17.3"/>
<circle cx="3035.5" cy="631.6" r="17.3"/>
<circle cx="3306.9" cy="642.4" r="17.3"/>
<circle cx="2572.1" cy="627.0" r="17.3"/>
<circle cx="2655.9" cy="639.3" r="17.3"/>
<circle cx="2738.5" cy="644.2" r="15.1"/>
<circle cx="2765.3" cy="647.3" r="15.1"/>
<circle cx="2867.6" cy="644.8" r="15.1"/>
<circle cx="2930.1" cy="645.5" r="15.1"/>
<circle cx="3128.2" cy="647.9" r="15.1"/>
<circle cx="3167.3" cy="652.5" r="15.1"/>
<circle cx="2589.7" cy="670.1" r="15.1"/>
<circle cx="2639.3" cy="667.9" r="15.1"/>
<circle cx="2555.8" cy="692.6" r="14.2"/>
<circle cx="2719.1" cy="679.3" r="15.1"/>
<circle cx="2792.4" cy="682.7" r="15.1"/>
<circle cx="2841.4" cy="687.4" r="15.1"/>
<circle cx="3229.6" cy="675.0" r="15.1"/>
<circle cx="3287.5" cy="686.4" r="15.1"/>
<circle cx="3253.6" cy="702.4" r="15.1"/>
<circle cx="3123.3" cy="689.5" r="15.1"/>
<circle cx="3155.0" cy="688.6" r="15.1"/>
<circle cx="3183.7" cy="714.2" r="13.6"/>
<circle cx="3111.9" cy="722.5" r="13.6"/>
<circle cx="2706.7" cy="709.5" r="15.1"/>
<circle cx="2680.6" cy="720.9" r="12.7"/>
<circle cx="2682.7" cy="743.4" r="13.3"/>
<circle cx="2783.1" cy="717.2" r="13.6"/>
<circle cx="2828.4" cy="720.9" r="13.6"/>
<circle cx="2934.7" cy="725.9" r="13.6"/>
<circle cx="2985.6" cy="742.5" r="13.3"/>
<circle cx="2600.5" cy="755.7" r="13.6"/>
<circle cx="2797.6" cy="752.7" r="13.6"/>
<circle cx="2885.4" cy="754.2" r="13.6"/>
<circle cx="2924.6" cy="758.8" r="13.6"/>
<circle cx="3019.4" cy="760.4" r="12.7"/>
<circle cx="3109.4" cy="755.7" r="13.6"/>
<circle cx="3230.5" cy="745.6" r="13.6"/>
<circle cx="1921.7" cy="783.7" r="13.6"/>
<circle cx="1938.1" cy="787.7" r="13.6"/>
<circle cx="1955.0" cy="808.4" r="13.6"/>
<circle cx="2001.8" cy="800.7" r="13.6"/>
<circle cx="2006.5" cy="821.6" r="12.7"/>
<circle cx="2032.0" cy="846.9" r="11.7"/>
<circle cx="2089.6" cy="793.9" r="13.6"/>
<circle cx="2128.8" cy="796.1" r="13.6"/>
<circle cx="2157.4" cy="819.2" r="13.6"/>
<circle cx="2111.2" cy="832.1" r="13.6"/>
<circle cx="2132.8" cy="844.4" r="13.6"/>
<circle cx="2077.3" cy="863.8" r="11.7"/>
<circle cx="2081.9" cy="876.2" r="11.7"/>
<circle cx="2189.8" cy="868.4" r="11.7"/>
<circle cx="2057.3" cy="902.3" r="11.7"/>
<circle cx="2047.4" cy="913.1" r="11.7"/>
<circle cx="2053.3" cy="940.8" r="11.7"/>
<circle cx="2162.0" cy="919.3" r="11.7"/>
<circle cx="2220.0" cy="914.0" r="11.7"/>
<circle cx="2267.4" cy="923.9" r="11.7"/>
<circle cx="2227.7" cy="939.3" r="11.7"/>
<circle cx="2297.3" cy="947.6" r="11.7"/>
<circle cx="2140.5" cy="951.6" r="11.7"/>
<circle cx="2155.9" cy="968.6" r="13.6"/>
<circle cx="2085.0" cy="981.5" r="13.6"/>
<circle cx="2102.0" cy="1001.5" r="13.6"/>
<circle cx="2132.8" cy="1012.3" r="13.6"/>
<circle cx="2229.8" cy="993.2" r="13.6"/>
<circle cx="2274.5" cy="983.1" r="13.6"/>
<circle cx="2229.8" cy="1023.4" r="13.6"/>
<circle cx="2235.1" cy="1041.0" r="12.7"/>
<circle cx="2259.7" cy="1022.8" r="13.6"/>
<circle cx="2258.5" cy="1037.9" r="12.7"/>
<circle cx="2174.4" cy="1041.3" r="13.6"/>
<circle cx="2212.0" cy="1081.6" r="13.6"/>
<circle cx="2157.4" cy="1096.4" r="15.1"/>
<circle cx="2165.1" cy="1114.9" r="15.1"/>
<circle cx="2185.2" cy="1113.4" r="15.1"/>
<circle cx="2107.5" cy="1101.7" r="15.1"/>
<circle cx="2090.6" cy="1129.4" r="15.1"/>
<circle cx="2088.1" cy="1153.4" r="15.1"/>
<circle cx="2435.3" cy="785.3" r="13.6"/>
<circle cx="2403.9" cy="817.0" r="13.6"/>
<circle cx="2447.9" cy="853.7" r="11.7"/>
<circle cx="2551.8" cy="809.9" r="12.7"/>
<circle cx="2549.6" cy="845.3" r="11.1"/>
<circle cx="2827.8" cy="779.7" r="13.6"/>
<circle cx="2939.3" cy="788.3" r="13.6"/>
<circle cx="2954.1" cy="778.5" r="13.6"/>
<circle cx="2944.9" cy="826.2" r="13.6"/>
<circle cx="2961.5" cy="826.9" r="13.6"/>
<circle cx="2940.3" cy="846.0" r="11.7"/>
<circle cx="2958.4" cy="862.9" r="11.7"/>
<circle cx="2919.3" cy="877.7" r="11.7"/>
<circle cx="3067.2" cy="784.7" r="13.6"/>
<circle cx="3106.6" cy="780.0" r="13.6"/>
<circle cx="3153.5" cy="771.4" r="14.2"/>
<circle cx="3117.1" cy="811.5" r="13.6"/>
<circle cx="3074.9" cy="822.9" r="13.6"/>
<circle cx="3110.3" cy="839.8" r="13.6"/>
<circle cx="3192.0" cy="817.6" r="13.6"/>
<circle cx="3208.9" cy="842.9" r="13.6"/>
<circle cx="3065.7" cy="876.8" r="11.7"/>
<circle cx="3087.8" cy="889.1" r="11.7"/>
<circle cx="3195.7" cy="894.0" r="11.7"/>
<circle cx="3181.2" cy="908.5" r="11.7"/>
<circle cx="3099.5" cy="918.4" r="11.7"/>
<circle cx="3114.3" cy="937.8" r="11.7"/>
<circle cx="3148.8" cy="947.0" r="11.7"/>
<circle cx="3162.7" cy="1094.0" r="15.7"/>
<circle cx="3316.7" cy="1103.2" r="15.7"/>
<circle cx="3321.4" cy="1132.5" r="14.2"/>
<circle cx="2720.6" cy="857.7" r="11.7"/>
<circle cx="2569.0" cy="879.2" r="11.7"/>
<circle cx="2574.3" cy="910.7" r="11.7"/>
<circle cx="2687.3" cy="897.1" r="11.7"/>
<circle cx="2720.6" cy="894.6" r="11.7"/>
<circle cx="2713.5" cy="909.1" r="11.7"/>
<circle cx="2674.4" cy="921.7" r="11.7"/>
<circle cx="2820.1" cy="927.9" r="11.7"/>
<circle cx="2609.1" cy="973.2" r="13.6"/>
<circle cx="2697.5" cy="978.7" r="13.6"/>
<circle cx="2674.4" cy="988.0" r="13.6"/>
<circle cx="2601.1" cy="1033.9" r="13.6"/>
<circle cx="2652.8" cy="1028.7" r="13.6"/>
<circle cx="2664.5" cy="1054.8" r="13.6"/>
<circle cx="2666.7" cy="1077.9" r="13.6"/>
<circle cx="2609.7" cy="1107.8" r="15.7"/>
<circle cx="2770.8" cy="1017.9" r="13.6"/>
<circle cx="2830.9" cy="1019.4" r="13.6"/>
</g>
<circle cx="2054.2" cy="630.4" r="17.3" fill="#800026" fill-opacity="0.85" stroke="#5a0018" stroke-width="2.6"/>
</g>
<g>
<rect x="1780" y="366.6" width="52" height="102.8" rx="7" fill="#333" />
<rect x="1780" y="490" width="52" height="51.4" rx="7" fill="#333" />
<rect x="1780" y="562" width="52" height="103" rx="7" fill="#333" />
<path d="M1780,418 H1832 M1780,613.5 H1832" stroke="#444" stroke-width="1.5"/>
<path d="M1806.8,384.5 V405.5 M1796.3,395 H1817.3" stroke="#ddd" stroke-width="4.2"/>
<path d="M1797.6,445 H1816" stroke="#ddd" stroke-width="4.2"/>
<path d="M1800.3,504.7 V523.7 H1817.1 M1794.9,509.6 H1812.3 V528.4" fill="none" stroke="#ddd" stroke-width="3"/><path d="M1800.5,523.5 L1816.8,507" stroke="#ddd" stroke-width="1.3"/>
<path d="M1806,577.1 L1817.8,585.6 L1813.3,599.7 L1798.7,599.7 L1794.2,585.6 Z" fill="#ddd"/>
<rect x="1795.9" y="630" width="20.1" height="20.2" fill="#ddd"/>
</g>
<text x="3043" y="919.7" font-size="22" font-weight="bold" fill="#999">Count</text>
<circle cx="3052" cy="943.9" r="8.9" fill="#fdd870" stroke="#c9a33e" stroke-width="2"/>
<text x="3071" y="952.2" font-size="22" fill="#9a9a9a">2 – 356,555</text>
<circle cx="3052" cy="977.9" r="8.9" fill="#fd9c48" stroke="#c8661a" stroke-width="2"/>
<text x="3071" y="986.2" font-size="22" fill="#9a9a9a">356,555 – 713,108</text>
<circle cx="3052" cy="1012.0" r="8.9" fill="#fb5232" stroke="#b81c12" stroke-width="2"/>
<text x="3071" y="1020.3" font-size="22" fill="#9a9a9a">713,108 – 1,069,661</text>
<circle cx="3052" cy="1046.0" r="8.9" fill="#dc1824" stroke="#8e0c12" stroke-width="2"/>
<text x="3071" y="1054.3" font-size="22" fill="#9a9a9a">1,069,661 – 1,426,214</text>
<circle cx="3052" cy="1080.1" r="8.9" fill="#800026" stroke="#4a0012" stroke-width="2"/>
<text x="3071" y="1088.4" font-size="22" fill="#9a9a9a">1,426,214 – 1,782,767</text>
<rect x="2786" y="1134" width="542" height="32" fill="#474747"/>
<rect x="2819.8" y="1138.3" width="156" height="23.3" fill="#333"/>
<rect x="3112" y="1138.3" width="206.5" height="23.3" fill="#333"/>
<text x="2794" y="1158" font-size="22" fill="#aaa">©</text>
<text x="2820" y="1158" font-size="22" fill="#f2f2f2" letter-spacing="0">OpenStreetMap</text>
<text x="2982" y="1158" font-size="22" fill="#a0a0a0" letter-spacing="0">contributors,</text>
<text x="3113.5" y="1158" font-size="22" fill="#f2f2f2" letter-spacing="0">Elastic Maps Service</text>
</svg>
</body></html>
